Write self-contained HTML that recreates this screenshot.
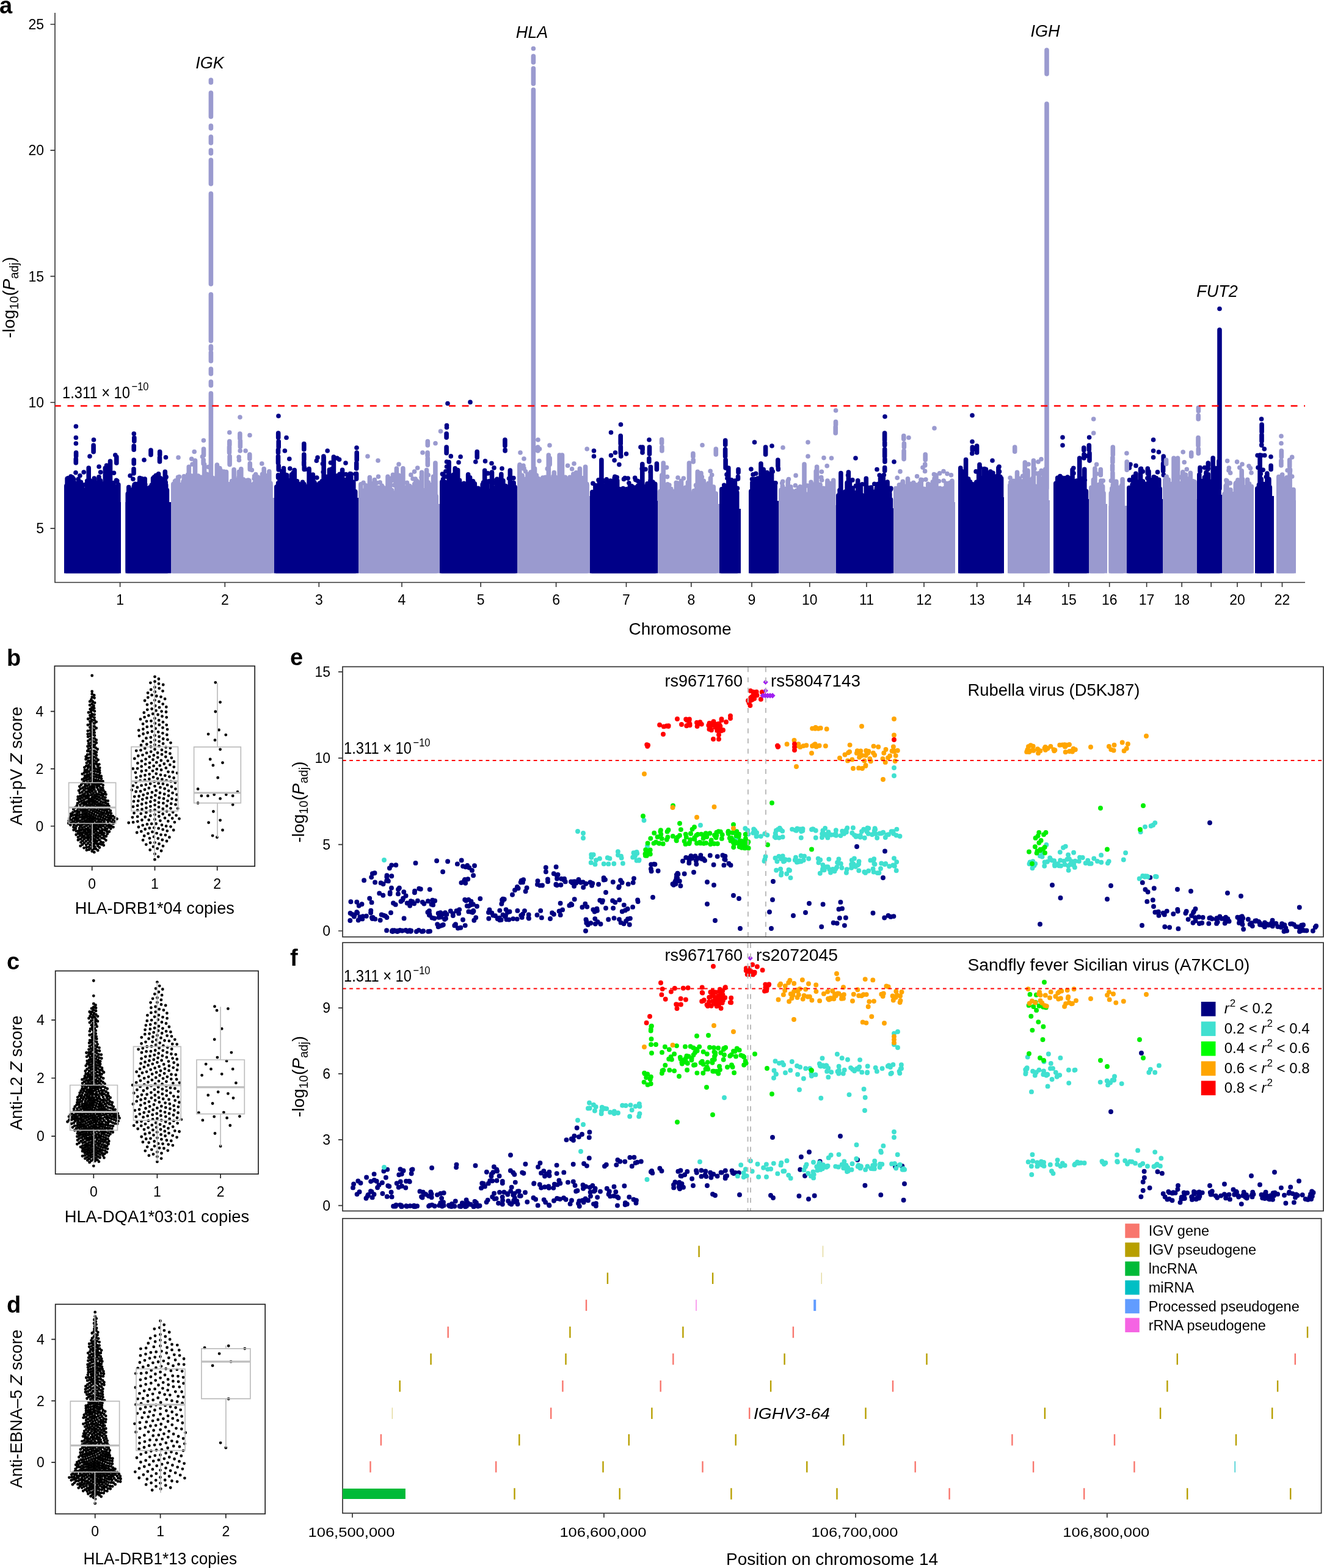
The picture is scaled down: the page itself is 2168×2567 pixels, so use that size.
<!DOCTYPE html>
<html><head><meta charset="utf-8"><title>Figure</title>
<style>html,body{margin:0;padding:0;background:#fff;}svg{display:block;}</style></head>
<body><svg width="2168" height="2567" viewBox="0 0 2168 2567" font-family="'Liberation Sans', Arial, sans-serif">
<rect width="2168" height="2567" fill="#fff"/>
<path d="M105 822H198V938.5H105ZM205.5 822H280V938.5H205.5ZM449 815H587V938.5H449ZM720 819H847V938.5H720ZM966 820H1077V938.5H966ZM1178 833H1213V938.5H1178ZM1226 820H1275V938.5H1226ZM1369 832H1463V938.5H1369ZM1569 814H1644V938.5H1569ZM1725 817H1783V938.5H1725ZM1845 817H1904V938.5H1845ZM1960 810H2001V938.5H1960ZM2055 812H2086V938.5H2055Z" fill="#000088"/>
<path d="M280 815H449V938.5H280ZM587 825H720V938.5H587ZM847 812H966V938.5H847ZM1077 825H1178V938.5H1077ZM1275 827H1369V938.5H1275ZM1463 822H1564V938.5H1463ZM1650 819H1719V938.5H1650ZM1783 825H1813V938.5H1783ZM1815.5 828H1845V938.5H1815.5ZM1904 817H1960V938.5H1904ZM2001 820H2053V938.5H2001ZM2090 819H2122V938.5H2090Z" fill="#9A9ACF"/>
<path d="M108.8 934.7V795.2M110.1 934.7V783.6M111.4 934.7V782.7M114.3 934.7V798.8M117.4 934.7V795.4M118.7 934.7V781.5M120.5 934.7V784M123 934.7V800.6M124.6 934.7V793.4M126.9 934.7V796M129.5 934.7V803.8M132.5 934.7V789.4M133.9 934.7V793.3M135.2 934.7V799.8M138.2 934.7V805.1M140.5 934.7V805.6M142.7 934.7V787.3M145.2 934.7V766M147.1 934.7V786.5M148.7 934.7V795.9M150.1 934.7V800.5M151.5 934.7V800.5M154.3 934.7V783.1M156.2 934.7V790.5M157.9 934.7V802.3M159.6 934.7V803.5M162 934.7V780.9M164.4 934.7V786.8M167.2 934.7V791.7M169.2 934.7V805.2M170.8 934.7V800.5M172.3 934.7V766.3M174.7 934.7V799.1M176.6 934.7V810.1M178.8 934.7V784.5M180.5 934.7V755M182.7 934.7V791.6M185.9 934.7V790.6M187.8 934.7V808.2M190.6 934.7V796.4M193.8 934.7V793.3M128.2 784.5h0M139.2 793.6h0M111.2 789.7h0M130.9 778.7h0M190.5 786.3h0M188.8 745h0M190.4 788.1h0M127.6 790.7h0M125.6 791h0M162.1 764h0M180.6 785.5h0M164.6 773.1h0M116 780h0M186.5 774.2h0M172.9 785.5h0M124 773.8h0M137.2 773h0M191.8 787.4h0M209.3 934.7V808.4M210.8 934.7V797.5M213.7 934.7V809.5M216.2 934.7V801.7M219.3 934.7V796M221.4 934.7V792.4M223.1 934.7V797.2M224.8 934.7V793.5M226.7 934.7V801M228.7 934.7V782.6M231 934.7V803.8M232.2 934.7V784.7M234.9 934.7V794.6M237.2 934.7V784.1M238.9 934.7V807M241.2 934.7V799.6M243.6 934.7V798.9M245.7 934.7V797.7M248.3 934.7V794.1M250.6 934.7V783.1M252.7 934.7V780.8M255.5 934.7V778.3M258 934.7V810.5M259.6 934.7V775.7M262.8 934.7V782.8M265.1 934.7V795.8M267.7 934.7V805.8M268.9 934.7V803.6M270.3 934.7V772.3M271.7 934.7V793.9M273.4 934.7V802.4M226.6 791.9h0M270.8 783h0M256.2 792.8h0M213.1 778.8h0M237.8 793h0M272.1 780.9h0M262.9 792.9h0M266.6 793.1h0M267 786.1h0M232 783.5h0M271.3 789.9h0M217.9 784.3h0M225.3 792.5h0M220.1 793.3h0M452.8 934.7V797.1M455.8 934.7V793.6M457.1 934.7V798.9M458.4 934.7V789.8M460.1 934.7V792.8M461.8 934.7V771.6M464.5 934.7V766.6M467.5 934.7V792.4M469.7 934.7V777.9M471.4 934.7V792.8M472.9 934.7V787.7M475.7 934.7V786.5M477.6 934.7V776.7M480.3 934.7V773.9M482.2 934.7V769.6M483.9 934.7V789.9M486.5 934.7V787.9M488.9 934.7V792.4M491.5 934.7V803M493.8 934.7V798.1M495.5 934.7V789.2M497.9 934.7V792.6M500.1 934.7V801.2M503.3 934.7V796.6M506.1 934.7V767.6M507.6 934.7V804.6M510.6 934.7V800.4M512.4 934.7V777.1M514.8 934.7V789.5M516.5 934.7V792.5M517.7 934.7V797.6M519.5 934.7V801.3M520.9 934.7V795.2M523.4 934.7V791.1M525.4 934.7V791.5M527.2 934.7V787.9M530.1 934.7V748M532.8 934.7V787.1M534.8 934.7V780.9M537 934.7V787.7M539.4 934.7V769M541.4 934.7V785.3M543.6 934.7V767.6M546.4 934.7V748M549.6 934.7V784M551.6 934.7V779.1M553.1 934.7V779.1M556 934.7V776.4M558 934.7V784.5M560.6 934.7V769.3M563.3 934.7V788.2M565.6 934.7V785.6M568 934.7V795.9M570.1 934.7V799.9M571.7 934.7V790.1M573.3 934.7V775.6M574.7 934.7V775.7M576 934.7V791.1M577.4 934.7V789.5M578.8 934.7V789.4M581.7 934.7V804.7M572.3 784.7h0M555.6 752.3h0M461.3 781.4h0M551.4 784.8h0M569.7 782.8h0M559.2 785h0M518.3 754.2h0M480 783h0M518.8 782h0M457.6 784.4h0M473.8 751.2h0M541.4 757.6h0M474.8 767h0M467.8 777.2h0M535.8 781.2h0M566.6 776.5h0M528.4 759.2h0M466.4 738h0M534.9 780.5h0M556.8 783h0M582 775.8h0M499.8 768.2h0M510.5 784.5h0M549.8 786.4h0M559.7 783.2h0M536.2 738h0M529.2 772.8h0M723.8 934.7V788.8M726.9 934.7V788.2M729.2 934.7V790.8M732 934.7V793.7M733.6 934.7V789.7M735.1 934.7V756.5M737.1 934.7V800.4M739.7 934.7V793.9M742.4 934.7V777.2M745.2 934.7V766.9M748 934.7V792.4M749.6 934.7V769.5M752.5 934.7V786.2M754.8 934.7V806.8M757.7 934.7V797M759.7 934.7V791.2M761.5 934.7V795.9M763.5 934.7V795.7M766.6 934.7V776.7M769.6 934.7V781.7M772.1 934.7V793.1M774.6 934.7V787.7M777.3 934.7V791.9M780.1 934.7V807.4M782.9 934.7V799.2M785.8 934.7V803.5M788.5 934.7V803.7M790.2 934.7V793.1M791.5 934.7V789.9M793.7 934.7V770.3M795.8 934.7V797.5M797.8 934.7V788.2M800.3 934.7V803.7M803.3 934.7V807.1M805.5 934.7V773.1M807.9 934.7V804.8M810.1 934.7V800.2M812.2 934.7V798M813.9 934.7V784.4M815.7 934.7V804.2M818.5 934.7V795.1M820.8 934.7V776.2M823.8 934.7V786.8M825 934.7V807.7M827.5 934.7V795.4M830 934.7V796.7M832.5 934.7V802.9M835.3 934.7V770M838.3 934.7V790M841.1 934.7V790.2M843.1 934.7V797.3M730.3 780.1h0M728.5 789.4h0M820.6 779.9h0M833.5 783.3h0M725.5 784.6h0M794.5 754.9h0M840.9 782.6h0M773 789.6h0M800.8 787.9h0M741.9 790.8h0M724.4 776h0M738.3 746.9h0M734.3 764.5h0M739.2 790.8h0M809.7 787.4h0M811.4 788.3h0M729.8 771.7h0M809 765.9h0M810.9 789.9h0M798.9 774.9h0M778.8 756h0M754.1 747.7h0M809.4 790.9h0M725.6 777.3h0M821.4 789.9h0M969.8 934.7V805.5M972 934.7V810.2M974.9 934.7V794.6M976.9 934.7V799.1M978.1 934.7V795.4M979.5 934.7V797.4M981.4 934.7V789.7M982.7 934.7V792.6M984.9 934.7V753M986.6 934.7V794M989.4 934.7V795.5M991 934.7V804.6M993.2 934.7V784.9M995.9 934.7V795.8M998.1 934.7V793.2M999.5 934.7V787M1002.2 934.7V807.3M1004.2 934.7V804.2M1006.2 934.7V782.5M1007.9 934.7V798.2M1010.7 934.7V786.7M1012 934.7V804.7M1013.7 934.7V800.5M1016 934.7V801.1M1017.2 934.7V810.1M1020.3 934.7V799.5M1023.2 934.7V805.2M1025.8 934.7V800.9M1028.2 934.7V800.8M1031.3 934.7V796.4M1032.8 934.7V803.1M1034.5 934.7V795.7M1036 934.7V798.2M1037.7 934.7V803M1040.1 934.7V798.1M1042.7 934.7V798.3M1044.8 934.7V795M1047.1 934.7V792.8M1050 934.7V801.6M1051.8 934.7V759.9M1053.3 934.7V809.1M1054.6 934.7V797.5M1056 934.7V809M1057.5 934.7V796.6M1060 934.7V791.7M1062.6 934.7V795.4M1065.4 934.7V764.6M1066.6 934.7V791.5M1069.7 934.7V793.9M1072.7 934.7V792.4M1044.6 787.5h0M1010.2 781.5h0M1009.6 786.9h0M1051.2 767.4h0M1021.5 784.4h0M988.8 787.3h0M984.8 780.9h0M1029.9 790.8h0M1064.9 786.9h0M1057 768.3h0M1068.9 789h0M1013.9 760.6h0M970.9 791.4h0M1028.2 783.1h0M1065 772.7h0M1025.5 743h0M1023.3 782.5h0M1040.7 785.6h0M1006.8 780.3h0M1006.1 753.6h0M1039.7 782.3h0M980 785.9h0M1181.8 934.7V800.8M1183.5 934.7V814.2M1184.7 934.7V804.8M1186 934.7V795.8M1187.4 934.7V796.7M1190.1 934.7V818.7M1192.8 934.7V766M1194.9 934.7V795.5M1197.7 934.7V785.9M1199.8 934.7V792.9M1201.1 934.7V810.6M1203.4 934.7V787.1M1205.1 934.7V812.9M1206.7 934.7V806.1M1188.3 801.4h0M1195.9 797.3h0M1207.4 799.4h0M1190 776.9h0M1185.7 794.2h0M1190.9 783h0M1196.8 786.4h0M1229.8 934.7V804.3M1231.9 934.7V790.1M1233.8 934.7V793M1235.4 934.7V784.5M1237.6 934.7V792.8M1240.8 934.7V783M1243.9 934.7V788.5M1246 934.7V759M1248.5 934.7V801.9M1250.2 934.7V768.6M1253.1 934.7V794.2M1256 934.7V773.5M1258.8 934.7V787.7M1261.7 934.7V797.2M1263.6 934.7V768.1M1266.1 934.7V791.3M1269.1 934.7V790.8M1233.1 776.9h0M1236.6 784.4h0M1270 790.8h0M1231.5 784.5h0M1237.7 775.3h0M1229.9 768.1h0M1265.2 771.9h0M1247.4 787.7h0M1257.2 782.6h0M1372.8 934.7V811M1375.1 934.7V802.4M1376.9 934.7V774.5M1378.6 934.7V809.8M1381.6 934.7V808.6M1383.4 934.7V805.5M1385.2 934.7V804.2M1387.1 934.7V790.3M1389.4 934.7V773M1391.5 934.7V789M1394.5 934.7V804.7M1396.2 934.7V799M1397.8 934.7V813.2M1399.4 934.7V811.4M1400.8 934.7V806.8M1402.3 934.7V813.8M1404.7 934.7V786.8M1407.4 934.7V803.9M1409.3 934.7V796.2M1411.2 934.7V810.6M1413.3 934.7V822.5M1416.5 934.7V816.5M1418.3 934.7V783.2M1419.7 934.7V798.5M1422.1 934.7V810.5M1424 934.7V798.5M1426.7 934.7V798.1M1429.8 934.7V805.6M1432.9 934.7V804.9M1435.4 934.7V799.1M1437.1 934.7V792.5M1438.4 934.7V809.7M1441.5 934.7V781.8M1444.5 934.7V804.9M1446.2 934.7V778.7M1448.1 934.7V799.8M1451.1 934.7V800.5M1453.1 934.7V789.1M1455.1 934.7V800.4M1456.8 934.7V808.1M1458.4 934.7V817.6M1458.7 800.8h0M1422 801.8h0M1447.4 777.6h0M1395.9 785.9h0M1443.9 799.7h0M1401.4 795.4h0M1449.8 801.7h0M1431.8 792.2h0M1411.9 792.7h0M1449.1 800.9h0M1449.1 798.2h0M1440.2 778.1h0M1388.6 778.1h0M1458.8 799.4h0M1374.9 802.5h0M1457 803.9h0M1451.6 801.9h0M1436.4 802.7h0M1572.8 934.7V766.1M1575.4 934.7V783.1M1577.5 934.7V798.1M1580.4 934.7V792.6M1581.6 934.7V752.6M1583.4 934.7V800.8M1585.7 934.7V784M1588.6 934.7V788.8M1590.2 934.7V797.2M1592.3 934.7V792.5M1595.1 934.7V802.5M1596.4 934.7V794.2M1598.8 934.7V789.4M1600.5 934.7V791.3M1602.7 934.7V771.4M1604 934.7V760.6M1605.3 934.7V783.1M1607.6 934.7V782.5M1610.2 934.7V788.7M1611.7 934.7V767.5M1614.4 934.7V768.3M1616.2 934.7V778.1M1618.8 934.7V802.7M1620.4 934.7V785.9M1621.9 934.7V772M1623.4 934.7V791.2M1624.7 934.7V795.2M1627 934.7V795.5M1629 934.7V779.8M1630.5 934.7V782.8M1632.7 934.7V791.2M1634.9 934.7V765.8M1637.9 934.7V787M1639.6 934.7V783.1M1575 774.1h0M1638 780.5h0M1636.5 772.1h0M1576.2 780.7h0M1603.1 782.3h0M1622.8 783.4h0M1625.9 781.4h0M1577.5 775.4h0M1579.2 775.6h0M1625.9 774.2h0M1603.9 785.6h0M1607.4 784.7h0M1616.4 784.2h0M1611.8 780.3h0M1598.1 771.9h0M1728.8 934.7V791.2M1731.7 934.7V782.2M1734.3 934.7V797.6M1735.7 934.7V781.4M1737.3 934.7V805.4M1738.9 934.7V782.1M1740.9 934.7V802M1744.1 934.7V791.3M1745.3 934.7V806.3M1748.1 934.7V781.1M1751.1 934.7V791.3M1754 934.7V782.5M1756.1 934.7V769M1758.6 934.7V796.2M1761.6 934.7V791.3M1762.9 934.7V787.1M1765 934.7V794.5M1767.7 934.7V750M1770.7 934.7V800.2M1772 934.7V800M1773.8 934.7V783.3M1775.8 934.7V768.3M1778.4 934.7V804M1742.8 786.7h0M1757.8 766.3h0M1768.8 783.5h0M1735.9 779.6h0M1773 786.7h0M1766 786.6h0M1744.5 788.3h0M1743.8 782.7h0M1777.5 746.4h0M1738.2 784.2h0M1776.4 786.1h0M1848.8 934.7V798.5M1851.6 934.7V801.2M1854.1 934.7V793.2M1855.7 934.7V780.6M1858.5 934.7V784.6M1859.8 934.7V775.4M1862.4 934.7V790.3M1864.8 934.7V804.3M1867.6 934.7V767.7M1869 934.7V787.6M1871.5 934.7V788.1M1873.1 934.7V791.4M1875.8 934.7V792.4M1878.4 934.7V793.8M1881 934.7V771.9M1884 934.7V788.5M1885.3 934.7V786.1M1887 934.7V790M1890.2 934.7V781.1M1893.2 934.7V782.6M1894.7 934.7V786M1897.7 934.7V785.3M1899.2 934.7V800.1M1861.7 788.7h0M1895.5 772.9h0M1897.4 740h0M1871.2 771.9h0M1868.5 767.3h0M1892 787.1h0M1849.5 785.9h0M1878.9 782.8h0M1849.3 765.9h0M1889.2 780.9h0M1851 760.4h0M1963.8 934.7V777.1M1965.1 934.7V789M1968 934.7V799.2M1970.6 934.7V786.8M1972.5 934.7V791.1M1975 934.7V773.5M1978.2 934.7V776.4M1980.2 934.7V788M1983.2 934.7V794.3M1986.2 934.7V749.7M1988 934.7V781.7M1991.2 934.7V792M1993.5 934.7V766.3M1996 934.7V754.8M1994.1 781.8h0M1972.5 765.6h0M1996.9 779.5h0M1978.4 766.9h0M1986.9 764.2h0M1989 778.3h0M1972.4 781.6h0M1986.9 778.9h0M2058.8 934.7V799.9M2061.5 934.7V793.5M2063.1 934.7V745M2065.2 934.7V784.4M2067.5 934.7V794.2M2069.7 934.7V792.6M2072.2 934.7V799.1M2074.9 934.7V775.1M2076.5 934.7V794.4M2077.9 934.7V784.4M2079.3 934.7V797.6M2068.2 769.2h0M2059.1 745.5h0M2064.3 775.6h0M2070.8 745.5h0M2070.3 735h0M2073.3 780.8h0M124.4 698h0M124.4 716.5h0M124.4 726h0M124.6 741V746.8M124.3 751.3V757.7M153.5 720h0M153.1 729V739.8M147 747h0M190.8 748V758M174.5 762V774M175.2 779.8V787M219.3 710h0M219.8 716.5V722.3M219.2 730V736.3M219.2 753V759.1M219 767.8V775M247 737V744.6M261.7 739.5V744.8M261.5 749.1V755.7M271.5 748.7h0M236 753h0M456 681h0M455.7 709V716.5M456.2 722.6V731.9M455.5 736.6V741M455.5 747V758M456.2 762.3V769M455.6 777.9V782.1M455.6 790.7V793M469 716.5h0M497.8 726.6V735.8M497.8 744V752.8M497.7 756.1V761M498.2 764.5V768.5M584 733h0M584.2 741V752.9M583.7 758V766.9M583.6 775.5V784M520 749h0M529.9 747V756M552 750h0M566 758h0M731.5 696.6h0M731.5 699.7h0M731.1 710V716.3M731.1 732V741.7M731.5 756h0M731.5 764h0M733 660.5h0M770 658.4h0M826.9 720V729.8M827.1 736.6V738M781.2 739.5V748.8M751 757h0M805 758.5h0M822 767h0M1016.5 695h0M1016.2 713.5V726.5M1016.3 731.4V742M1016.8 746V747M1000.5 708h0M1000.5 745.6h0M1063 720h0M1063.5 732V743.2M1062.8 750.9V756M972.5 738h0M972.5 747h0M1007.5 741h0M1052.1 732V736.6M1052 740.1V741M1075.4 759V768.5M1049 732h0M1187.7 721V728.2M1187.6 735.5V747.2M1188.1 752.8V766.1M1209 768.5V773.5M1208.5 780.4V784M1235.5 724h0M1253.6 732V744M1264 730h0M1273.8 753V763.2M1274.3 766.6V768.5M1449 682h0M1448.6 709V720.7M1448.7 724.3V729M1448.7 735.2V747.5M1448.9 751.6V756M1448.7 765.5V770.7M1401 750h0M1436 768.5h0M1464 756h0M1592 680h0M1592 723h0M1592.3 732V737.1M1591.8 742.1V742.5M1605 765.5h0M1575 771.6h0M1599.6 730V741M1625 754h0M1636 764h0M1740 716h0M1740 729h0M1783.6 716h0M1783.3 729V736.4M1784 741.9V754.1M1774.8 733V737.1M1775 743.7V750M1758 774.7h0M1888.6 720h0M1888.6 738h0M1888.6 748.7h0M1905.2 747V753.5M1904.6 758.8V771.2M1905.3 777.4V777.7M1860 762.4h0M1879.3 767V774.7M1978.3 758V762.3M1977.6 766.6V768.5M1965 765.5V771.5M2065.6 686h0M2066.1 695V707M2066 711.9V722.2M2065.8 728V729M2065.6 745.6h0M2081 747.7h0M2081.1 762.4V768.5M2060 765.5h0M1997 505.5h0M1997 540V800" stroke="#000088" stroke-width="7.6" stroke-linecap="round" fill="none"/>
<path d="M283.8 934.7V792.6M286.5 934.7V787.7M287.8 934.7V786.7M290.1 934.7V795.7M291.5 934.7V781.4M294.3 934.7V793.6M297.5 934.7V800.2M300 934.7V788.2M301.3 934.7V779.9M304.2 934.7V782.7M305.9 934.7V784.1M307.6 934.7V777.1M309.3 934.7V764.2M310.5 934.7V793.2M312.1 934.7V782.8M313.5 934.7V779M315.1 934.7V790.6M317.7 934.7V793.5M319.5 934.7V754.1M322 934.7V803.6M324.5 934.7V779.1M326.7 934.7V787.3M329 934.7V781.2M330.7 934.7V791.1M332.1 934.7V782.8M334.6 934.7V760.4M337.3 934.7V792.3M338.6 934.7V776.3M341.2 934.7V800.2M343.4 934.7V793.3M346.2 934.7V789.2M347.9 934.7V782.2M349.1 934.7V793.3M351.7 934.7V784.1M353.8 934.7V785.5M355.4 934.7V761M358.3 934.7V766.1M359.9 934.7V766.6M361.4 934.7V770.3M363.6 934.7V782M366.6 934.7V772M368.7 934.7V788.3M370.5 934.7V772.5M373.4 934.7V804.5M376.4 934.7V792.6M379.6 934.7V787.5M381.3 934.7V790.4M383.1 934.7V768.8M385.3 934.7V793.8M388.3 934.7V785.3M391.4 934.7V772.4M393.5 934.7V788M394.8 934.7V767.8M396.7 934.7V799.1M398.4 934.7V784.8M400.4 934.7V790.3M403.4 934.7V786.8M406.6 934.7V786.1M408 934.7V786.9M409.7 934.7V797.4M411.7 934.7V793.6M413.6 934.7V793.4M415 934.7V794M416.7 934.7V790.6M418.7 934.7V776.6M420 934.7V801.5M422.1 934.7V781M425.2 934.7V788.7M426.9 934.7V790.7M429.5 934.7V776.4M432.2 934.7V767.5M433.8 934.7V777.9M435.3 934.7V797.8M436.7 934.7V797.8M438.7 934.7V791.4M440.8 934.7V771.9M443 934.7V791M333.4 786.7h0M364.2 772.4h0M351.6 783.1h0M391.5 753.3h0M320.4 786.5h0M338.4 779.9h0M394 784.1h0M412.4 769.5h0M365.3 784h0M440.3 782.1h0M416.1 783.6h0M319.5 768.4h0M331.4 747.5h0M363.8 784.3h0M319.8 780h0M391.2 748.4h0M307.4 780.5h0M318.2 739.5h0M306.7 786.3h0M293.5 780.5h0M428.8 759h0M402.1 738h0M434.2 781.8h0M313.7 751.3h0M404.3 786.6h0M391 780.8h0M344.1 781.8h0M311.1 787h0M329 781.4h0M438 785.3h0M439.4 784h0M341.4 764.6h0M416.5 779.6h0M590.8 934.7V792.9M593.2 934.7V803.1M594.7 934.7V808.4M596.6 934.7V804.4M599 934.7V794.7M601.1 934.7V814.6M602.6 934.7V809.6M605.4 934.7V781.5M607.7 934.7V806.7M610.8 934.7V791.6M612.1 934.7V799.5M613.4 934.7V785.6M616.5 934.7V801.2M618.7 934.7V798.1M620.5 934.7V814.6M623.1 934.7V814.1M625.2 934.7V795M626.7 934.7V797.3M629.4 934.7V803.5M631.1 934.7V799.6M633.3 934.7V807.8M635 934.7V780.2M636.6 934.7V803.7M638.5 934.7V785.8M641.5 934.7V802.5M644.7 934.7V808.4M647.6 934.7V806.9M649.4 934.7V767M650.9 934.7V800.7M652.8 934.7V778.1M655.2 934.7V786.3M657.2 934.7V798.4M658.5 934.7V797.2M659.9 934.7V766.9M662.7 934.7V804.8M664.5 934.7V799.8M666.1 934.7V798.1M667.9 934.7V794.3M671 934.7V808M672.3 934.7V802.1M674.2 934.7V797.7M677.1 934.7V812.9M678.7 934.7V792.2M680.9 934.7V788M682.8 934.7V787.6M684.5 934.7V809.4M686 934.7V791.3M688.6 934.7V796.4M690.6 934.7V773.2M691.8 934.7V801.7M694 934.7V810.6M696.1 934.7V805.8M698.6 934.7V769.5M701.2 934.7V789.9M703.9 934.7V793.5M706.9 934.7V800M709.5 934.7V780.2M711.3 934.7V795.2M712.9 934.7V758M714.3 934.7V812.3M645.3 794.2h0M670.8 795.5h0M616.7 790.6h0M595.1 790.4h0M690 781.6h0M653.6 784h0M648.9 795h0M666.5 790.3h0M683.7 766h0M644.7 785.9h0M684.7 789.9h0M619.5 780.3h0M701.2 777.7h0M678.6 772.1h0M676 783.7h0M647.7 792.1h0M669.6 795.7h0M643.4 777.2h0M680.2 784.1h0M622.2 789.8h0M647.9 784.4h0M642.1 782.4h0M707.4 794.4h0M672.9 777.4h0M639.5 788.3h0M713 796.5h0M850.8 934.7V762.2M853 934.7V792.1M855.1 934.7V778.4M857 934.7V788M858.9 934.7V789.1M861.3 934.7V784M863.9 934.7V776.2M867 934.7V780.8M869.1 934.7V773.1M871.5 934.7V780.2M872.7 934.7V790.9M875.5 934.7V767.1M878.4 934.7V778.1M881.3 934.7V783.5M883.2 934.7V795.2M884.8 934.7V790.3M887.2 934.7V784.2M888.9 934.7V787.7M890.3 934.7V785.1M892.6 934.7V781.5M894.8 934.7V781.4M896.3 934.7V781.7M898.3 934.7V745M900.3 934.7V796.4M901.8 934.7V784M903 934.7V803.5M905.2 934.7V783.2M907.3 934.7V773.5M910.4 934.7V784M912 934.7V786.1M914.9 934.7V797.5M916.2 934.7V745M917.9 934.7V790.1M920.5 934.7V745M923.7 934.7V784.4M925.6 934.7V781.3M926.9 934.7V784.9M930 934.7V788.1M933.1 934.7V781.2M935.8 934.7V790.8M937.3 934.7V783.1M938.8 934.7V776M940.3 934.7V802.4M943.4 934.7V773.8M944.8 934.7V777.4M946.9 934.7V797.1M949.4 934.7V767.3M951.7 934.7V800.3M953.7 934.7V789.4M955.6 934.7V793.2M958.6 934.7V764.2M961.1 934.7V792.5M873.3 778.1h0M961.2 735h0M953.9 782.7h0M883 754.6h0M857.2 767.1h0M883.5 735h0M852.6 762.6h0M888.8 782h0M851 760.8h0M909.5 781.3h0M899.3 752.4h0M875.1 773h0M866.2 781.4h0M936.6 767.8h0M872.7 782.9h0M860.5 771.8h0M906 779.8h0M873.8 771.7h0M929.6 762.3h0M915.7 781.1h0M858.1 766.8h0M896.3 767.4h0M857 762.4h0M1080.8 934.7V804.5M1083.8 934.7V777.7M1086.2 934.7V758M1089 934.7V803M1091.9 934.7V794.5M1094.5 934.7V801.4M1096.5 934.7V802.7M1098.7 934.7V800.4M1101.1 934.7V813M1102.4 934.7V808.4M1105 934.7V804.4M1107.4 934.7V792.6M1109.7 934.7V807.9M1112.9 934.7V795.8M1115.6 934.7V787.2M1118.4 934.7V804.8M1121.2 934.7V808.4M1122.7 934.7V798M1125.1 934.7V803.2M1126.4 934.7V789.6M1128.5 934.7V758M1131.4 934.7V811.8M1133.2 934.7V808M1136.3 934.7V803.5M1137.9 934.7V811.4M1140.7 934.7V799.6M1142.3 934.7V772.2M1143.7 934.7V799.1M1145 934.7V812.7M1146.7 934.7V802.2M1148 934.7V774.5M1149.4 934.7V801.2M1152.3 934.7V787.2M1154.9 934.7V812M1158 934.7V796.8M1159.5 934.7V792.7M1161.8 934.7V799.3M1163.5 934.7V782.7M1165.8 934.7V810.1M1168.3 934.7V797M1169.6 934.7V812.6M1172.2 934.7V808.1M1108.5 796.1h0M1109.9 793.7h0M1092.6 780.6h0M1107.2 790.3h0M1165.7 777.6h0M1163.2 771.3h0M1093.1 792.8h0M1083.6 782.2h0M1142.8 791.4h0M1119.3 783h0M1146.1 793.3h0M1159.9 791.4h0M1139.5 794.4h0M1091.6 765.3h0M1149.4 780.8h0M1084.6 796.5h0M1095.9 794.1h0M1109.1 790.8h0M1084.5 792.2h0M1140.4 794.4h0M1278.8 934.7V802.2M1281.3 934.7V795.6M1283.4 934.7V799.8M1284.8 934.7V805.8M1287.8 934.7V800.5M1290.2 934.7V787.1M1292.7 934.7V808.1M1294.8 934.7V797M1297.8 934.7V804.1M1299.9 934.7V812.1M1302.3 934.7V805.7M1304.2 934.7V803.2M1306.5 934.7V815.4M1307.9 934.7V798.7M1310.2 934.7V796.8M1312.6 934.7V797.7M1315.5 934.7V806.7M1317 934.7V760M1319 934.7V816.6M1321.7 934.7V809.1M1323.7 934.7V811.6M1325.5 934.7V797.6M1327.9 934.7V792.6M1330.8 934.7V812.8M1333.6 934.7V797.7M1336.2 934.7V771.6M1337.6 934.7V764.2M1340.2 934.7V801.8M1343.1 934.7V793.2M1345.9 934.7V809.1M1348.4 934.7V799.3M1350.7 934.7V805M1351.9 934.7V799.9M1354.9 934.7V787.1M1357.7 934.7V797.8M1359.2 934.7V791.3M1361.7 934.7V806.2M1364.7 934.7V786.2M1328.7 792.6h0M1309.4 798.9h0M1328.8 793.7h0M1280.6 791h0M1364 798.4h0M1291.4 784.5h0M1302.4 794.8h0M1322 795h0M1328 789.2h0M1361.5 750h0M1281.7 788.3h0M1345.4 772.2h0M1345.7 786h0M1333.6 793.1h0M1303.1 778.4h0M1354.2 762.7h0M1337.7 794.3h0M1344.8 781.5h0M1466.8 934.7V799.6M1469.8 934.7V800.5M1471.1 934.7V807.9M1472.4 934.7V793.8M1473.8 934.7V813.7M1476.7 934.7V794.1M1478.3 934.7V788.3M1480.5 934.7V801.3M1483.5 934.7V796M1486.5 934.7V783.9M1487.8 934.7V804.8M1490.2 934.7V792.1M1492.7 934.7V798.8M1495.8 934.7V790.3M1497.7 934.7V808.6M1499.6 934.7V793.8M1500.8 934.7V804.2M1503.3 934.7V796.1M1504.7 934.7V793.4M1506 934.7V791.2M1508.3 934.7V786.8M1511.2 934.7V800.2M1512.9 934.7V800.4M1515.5 934.7V801M1518.1 934.7V803.8M1519.7 934.7V792.2M1521.8 934.7V793.9M1523.5 934.7V811.3M1525.7 934.7V803.9M1527.3 934.7V788.8M1530.1 934.7V783.3M1533 934.7V778M1534.4 934.7V806.5M1536.5 934.7V802.3M1539.1 934.7V799.2M1541.8 934.7V806.8M1544.1 934.7V800.2M1546 934.7V799.5M1547.3 934.7V807.2M1549.2 934.7V791.3M1552.1 934.7V801.6M1554.5 934.7V792.6M1556.5 934.7V790.1M1559 934.7V787.4M1553.2 791.2h0M1557.5 777.8h0M1501.6 779.8h0M1497.6 793h0M1537.4 787.8h0M1515.9 785.1h0M1551 775.6h0M1469.2 782.3h0M1510 785.9h0M1545.2 787h0M1511 765.3h0M1507.9 785.2h0M1514.6 771.4h0M1529.4 776.5h0M1504.3 793.5h0M1530.3 783.5h0M1538.6 774.9h0M1477.8 790.8h0M1474 771.9h0M1476.3 792.8h0M1653.8 934.7V794.4M1655.7 934.7V792.1M1657.2 934.7V796.3M1659.4 934.7V787.3M1661.6 934.7V792.4M1663.3 934.7V796.1M1665.5 934.7V773.4M1667.6 934.7V789.2M1669.3 934.7V783.3M1670.6 934.7V797.8M1673.5 934.7V802.6M1675.9 934.7V787.2M1678.3 934.7V757.1M1680.9 934.7V784M1683 934.7V770.4M1685.1 934.7V789.9M1687.7 934.7V785.5M1689.2 934.7V795M1692.4 934.7V754M1694.6 934.7V795.7M1697 934.7V802.3M1699.8 934.7V805M1701.3 934.7V774.7M1702.8 934.7V794M1705.5 934.7V791.4M1707.6 934.7V791.4M1709.3 934.7V773.4M1710.8 934.7V776.1M1713.7 934.7V794.2M1684 760h0M1695.9 774.9h0M1677.9 771.1h0M1702.5 776.1h0M1711.6 768.3h0M1678.7 789.8h0M1693.9 767.5h0M1674.7 779.3h0M1705.1 770.5h0M1654.1 782.3h0M1654.8 789.5h0M1703.7 783.9h0M1690.9 783.1h0M1786.8 934.7V798.3M1788.8 934.7V812M1790.4 934.7V785.6M1792.9 934.7V767M1795 934.7V803.7M1796.8 934.7V811.5M1798.5 934.7V794.7M1799.8 934.7V793.4M1802.9 934.7V787.1M1805.6 934.7V796.2M1807 934.7V807.3M1802.3 777.6h0M1795.6 760.3h0M1803.4 791.6h0M1795.6 775.7h0M1794.6 794.3h0M1806.3 787.1h0M1819.3 934.7V807.4M1820.8 934.7V799.5M1823 934.7V796.8M1825 934.7V799.3M1827.8 934.7V788.3M1830.5 934.7V811.9M1833.1 934.7V798.2M1834.6 934.7V803.7M1836.4 934.7V812.2M1838.1 934.7V784.7M1836.9 794.2h0M1834.6 799h0M1837.7 794.9h0M1819.4 787.1h0M1822.3 795.8h0M1907.8 934.7V785.4M1910.2 934.7V780.2M1911.9 934.7V804.8M1913.3 934.7V785.2M1915.4 934.7V794.5M1917.5 934.7V792.6M1919.5 934.7V793.8M1922 934.7V750M1924.4 934.7V794.7M1926 934.7V800.7M1928.5 934.7V750M1931.3 934.7V791.5M1934.4 934.7V800.9M1936.8 934.7V772.8M1939.5 934.7V807.5M1941.1 934.7V779.1M1942.5 934.7V793.1M1943.7 934.7V783.8M1945.9 934.7V793M1947.3 934.7V800.3M1949.3 934.7V774.3M1952.1 934.7V787.7M1953.7 934.7V787.9M1956 934.7V788.8M1948.9 787.6h0M1925.6 784.3h0M1944.7 786.9h0M1937.2 740h0M1945 788.9h0M1911.4 787.4h0M1941.3 777.1h0M1933 781.1h0M1927.5 776.7h0M1939.2 756.7h0M1943.3 768.3h0M2004.8 934.7V808.7M2007.2 934.7V795.2M2009 934.7V787M2010.5 934.7V801.8M2013 934.7V803.2M2014.9 934.7V801.7M2017.5 934.7V809.9M2020.4 934.7V808.6M2023.3 934.7V791.5M2024.5 934.7V790.1M2026.9 934.7V785.8M2030 934.7V801.4M2031.7 934.7V793.7M2033.2 934.7V770.9M2034.6 934.7V784.6M2036.9 934.7V797.4M2038.6 934.7V803.5M2040.2 934.7V798.7M2042.7 934.7V785.4M2045.6 934.7V792.1M2047 934.7V799.1M2049.2 934.7V796.4M2007.8 786.2h0M2025.6 756.1h0M2029.4 791h0M2014.7 774.3h0M2029.8 765.5h0M2047.5 766.6h0M2009.7 754.6h0M2028.1 788.4h0M2012.4 766h0M2014.2 790.9h0M2093.8 934.7V780.5M2095.9 934.7V808M2097.9 934.7V793.3M2099.5 934.7V777.2M2101.2 934.7V797.7M2102.6 934.7V792.7M2104.1 934.7V801.1M2107.1 934.7V781.7M2109.2 934.7V804.3M2112.1 934.7V769.5M2114.2 934.7V808.7M2115.9 934.7V807.3M2118 934.7V801.5M2106.3 789.4h0M2099.7 777h0M2108.1 770h0M2115.7 748.4h0M2098.5 790h0M2115.7 780h0M393 683h0M392.9 710V718.1M393.4 721.5V731.4M393.2 737.8V738M375.8 708h0M375.8 722.6V728.4M375.5 731.5V741M376.1 747V760.6M333.4 721h0M333.5 735V745.4M333.1 752.7V759M409 712.5h0M408.8 744V751M409.3 758.9V768.5M292 749h0M315 760h0M700.3 722.6V728.9M700.1 741V745.9M700.3 750.1V761.2M721.5 706h0M713 725.7h0M602 747h0M619 754h0M653 760h0M692 741h0M881 720h0M880.7 732V738M900 729h0M900.2 750V760.4M852 741h0M858 751h0M940 759h0M1083.6 719.6V725.6M1083.9 731.6V738M1150 728.8h0M1172.3 735V744M1134.9 742.5V747.2M1135.2 753.1V756M1110 782h0M1368.6 672h0M1368.5 690.5V695.4M1368.2 698.9V709M1282 732.7h0M1323 724h0M1323 747h0M1349 749.6h0M1479.8 713.5V718.7M1480.4 726.1V732M1480.1 738V751.6M1488 716.5h0M1530 701h0M1515.2 744V752.7M1514.7 760.1V762M1545 771.6h0M1661.7 732V739.2M1700 756h0M1705 751.7h0M1790.7 686h0M1790.7 709h0M1822.3 732V744.5M1821.9 749.1V756.7M1821.6 761.9V769.6M1821.9 774V787.1M1822.3 793.9V799M1844.9 742h0M1845.2 756V769.2M1802.3 768.5V777.7M1962.4 667.5V672.9M1962.2 680.4V686M1962 716.5V729.2M1962.3 734.9V742.3M1950.7 741V747M1909.6 753V759.5M2034 760h0M2045 763h0M2049 774h0M2012 770h0M2098 714h0M2098 725.7h0M2098.3 738V747.9M2097.9 754V762M2111.7 753V763.7M2112.5 768.8V771.6M345.4 131h0M345.4 131V135M345.4 152V191M345.4 206V210M345.4 224V234M345.4 246V251M345.4 262V301M345.4 317V465M345.4 482V558M345.4 567V572M345.4 577V591M345.4 604V612M345.4 625V631M345.4 644V800M873.4 79.5h0M873.4 92V102M873.4 112V137M873.4 147V800M1714 82h0M1714 82V121M1714 170V800" stroke="#9A9ACF" stroke-width="7.6" stroke-linecap="round" fill="none"/>
<path d="M90 21V953.5H2137" stroke="#333" stroke-width="1.6" fill="none"/>
<path d="M82.5 865.1H90M82.5 658.8H90M82.5 452.4H90M82.5 246.1H90M82.5 39.8H90M196.6 953.5V961M368.3 953.5V961M522.3 953.5V961M658 953.5V961M787.2 953.5V961M910.6 953.5V961M1025.5 953.5V961M1131.8 953.5V961M1231 953.5V961M1325.8 953.5V961M1419 953.5V961M1513 953.5V961M1599.7 953.5V961M1676.5 953.5V961M1750 953.5V961M1816.7 953.5V961M1877.6 953.5V961M1935.2 953.5V961M1983.2 953.5V961M2026 953.5V961M2065.3 953.5V961M2099.5 953.5V961" stroke="#333" stroke-width="1.6" fill="none"/>
<path d="M90 664.5H2137" stroke="#FF0000" stroke-width="2.6" stroke-dasharray="10.9 10.64" stroke-dashoffset="1.14" fill="none"/>
<text x="72" y="873.4" font-size="23" text-anchor="end">5</text>
<text x="72" y="667" font-size="23" text-anchor="end">10</text>
<text x="72" y="460.6" font-size="23" text-anchor="end">15</text>
<text x="72" y="254.3" font-size="23" text-anchor="end">20</text>
<text x="72" y="48" font-size="23" text-anchor="end">25</text>
<text x="196.6" y="990.4" font-size="23" text-anchor="middle">1</text>
<text x="368.3" y="990.4" font-size="23" text-anchor="middle">2</text>
<text x="522.3" y="990.4" font-size="23" text-anchor="middle">3</text>
<text x="658" y="990.4" font-size="23" text-anchor="middle">4</text>
<text x="787.2" y="990.4" font-size="23" text-anchor="middle">5</text>
<text x="910.6" y="990.4" font-size="23" text-anchor="middle">6</text>
<text x="1025.5" y="990.4" font-size="23" text-anchor="middle">7</text>
<text x="1131.8" y="990.4" font-size="23" text-anchor="middle">8</text>
<text x="1231" y="990.4" font-size="23" text-anchor="middle">9</text>
<text x="1325.8" y="990.4" font-size="23" text-anchor="middle">10</text>
<text x="1419" y="990.4" font-size="23" text-anchor="middle">11</text>
<text x="1513" y="990.4" font-size="23" text-anchor="middle">12</text>
<text x="1599.7" y="990.4" font-size="23" text-anchor="middle">13</text>
<text x="1676.5" y="990.4" font-size="23" text-anchor="middle">14</text>
<text x="1750" y="990.4" font-size="23" text-anchor="middle">15</text>
<text x="1816.7" y="990.4" font-size="23" text-anchor="middle">16</text>
<text x="1877.6" y="990.4" font-size="23" text-anchor="middle">17</text>
<text x="1935.2" y="990.4" font-size="23" text-anchor="middle">18</text>
<text x="2026" y="990.4" font-size="23" text-anchor="middle">20</text>
<text x="2099.5" y="990.4" font-size="23" text-anchor="middle">22</text>
<text x="1113.5" y="1039.3" font-size="28" text-anchor="middle">Chromosome</text>
<text transform="translate(24 487) rotate(-90)" text-anchor="middle" font-size="28">-log<tspan font-size="20" dy="6">10</tspan><tspan dy="-6">(</tspan><tspan font-style="italic">P</tspan><tspan font-size="20" dy="6">adj</tspan><tspan dy="-6">)</tspan></text>
<text x="343.5" y="111.8" font-size="27" text-anchor="middle" font-style="italic">IGK</text>
<text x="871" y="62.1" font-size="27" text-anchor="middle" font-style="italic">HLA</text>
<text x="1711.5" y="59.6" font-size="27" text-anchor="middle" font-style="italic">IGH</text>
<text x="1993" y="486" font-size="27" text-anchor="middle" font-style="italic">FUT2</text>
<text x="102" y="651.8" font-size="27" textLength="111" lengthAdjust="spacingAndGlyphs">1.311 × 10</text><text x="215.5" y="639.3" font-size="19" textLength="28" lengthAdjust="spacingAndGlyphs">−10</text>
<text x="-1" y="21.5" font-size="38" font-weight="bold">a</text>
<path d="M154.3 1395.2h0M150.7 1393.5h0M160.2 1392.2h0M141.9 1391.7h0M145.8 1390.9h0M153 1390.1h0M157.1 1389.7h0M149.3 1388.8h0M137.5 1388.1h0M162.9 1387.5h0M141.4 1387.3h0M145.4 1386.6h0M155.1 1386.2h0M151.2 1385.3h0M131.7 1384.9h0M160 1384.8h0M169.8 1383.8h0M147.7 1383.4h0M141.1 1383.1h0M135 1382.7h0M166.1 1382.4h0M153.8 1382h0M162.2 1381.4h0M158.2 1381.2h0M144.3 1380.7h0M150.2 1380.2h0M137.9 1379.9h0M169 1379.3h0M132.4 1378.9h0M155.3 1378.4h0M165.2 1378.1h0M146.9 1377.7h0M141 1377.3h0M159.1 1376.9h0M151.8 1376.6h0M135.4 1376.3h0M173.4 1375.6h0M127.9 1375.2h0M162.7 1374.9h0M143.9 1374.6h0M155.9 1374.4h0M148.7 1374.1h0M131.6 1373.7h0M138.2 1373.4h0M170.6 1372.8h0M152.4 1372.6h0M166.7 1372.1h0M160.1 1371.9h0M141.6 1371.3h0M134.6 1371h0M145.6 1371h0M127.9 1370.6h0M156.6 1370h0M149.5 1369.8h0M163.7 1369.3h0M138.1 1369.2h0M173.8 1369h0M169.9 1368.5h0M153.1 1368.1h0M130.9 1368h0M143.2 1367.7h0M160.3 1367.3h0M134.7 1366.8h0M124.7 1366.5h0M147 1366.4h0M166.7 1366.1h0M156.6 1365.8h0M139.7 1365.5h0M175.8 1365h0M150.7 1364.9h0M128.1 1364.5h0M170.5 1364.2h0M163.2 1364h0M143.2 1363.5h0M132 1363.4h0M136 1363h0M159.4 1362.8h0M154.4 1362.5h0M147.3 1362.2h0M167.2 1361.9h0M178.9 1361.5h0M139.5 1361.2h0M175 1361.1h0M125 1360.7h0M150.9 1360.6h0M129 1360.2h0M163.8 1359.8h0M144 1359.6h0M157.2 1359.5h0M171.6 1359h0M132.8 1358.9h0M120.6 1358.7h0M136.7 1358.3h0M147.7 1358.1h0M167.7 1357.9h0M153.7 1357.7h0M140.6 1357.4h0M160.9 1357h0M175.5 1356.8h0M181.3 1356.5h0M123.8 1356.3h0M130 1356h0M144.2 1355.6h0M157.2 1355.5h0M150.5 1355.2h0M172 1354.9h0M134.6 1354.8h0M165.4 1354.6h0M185.5 1354.1h0M120.4 1353.9h0M178.3 1353.8h0M138.4 1353.6h0M154 1353.2h0M161.3 1352.9h0M147.1 1352.9h0M125 1352.4h0M131.3 1352.2h0M169.1 1352h0M182.2 1351.9h0M174.9 1351.7h0M141.8 1351.5h0M157.8 1351h0M150.6 1351h0M164.8 1350.6h0M115.4 1350.5h0M134.7 1350.1h0M121 1350h0M178.8 1349.8h0M127.8 1349.6h0M145.2 1349.3h0M154.2 1349.2h0M172.1 1348.9h0M138.4 1348.6h0M161.5 1348.3h0M168.1 1348.2h0M185.6 1348h0M112.3 1347.7h0M131.3 1347.6h0M148.7 1347.4h0M123.9 1347.2h0M157.8 1346.9h0M116.9 1346.8h0M141.8 1346.6h0M176.9 1346.3h0M134.9 1346h0M164.8 1345.9h0M152.3 1345.7h0M182.7 1345.4h0M170.8 1345.1h0M145.5 1345h0M120.4 1344.8h0M188.1 1344.6h0M126.8 1344.5h0M161.2 1344.3h0M138.4 1344.1h0M112.8 1343.7h0M130.7 1343.6h0M156.1 1343.3h0M149.1 1343.3h0M179.4 1343h0M167.5 1342.8h0M175.5 1342.6h0M142.1 1342.4h0M117.2 1342.1h0M123.4 1342.1h0M185.2 1341.8h0M134.2 1341.6h0M152.6 1341.4h0M163.9 1341.2h0M171.8 1341h0M145.7 1340.8h0M191.5 1340.6h0M159.9 1340.5h0M127.6 1340.2h0M137.9 1340h0M113.7 1339.8h0M181.8 1339.7h0M120.2 1339.4h0M156.1 1339.2h0M149.3 1339.1h0M177.9 1338.9h0M168.5 1338.7h0M188.1 1338.5h0M142.1 1338.2h0M124 1338.2h0M130.8 1337.8h0M174.1 1337.6h0M134.8 1337.4h0M164.8 1337.2h0M152.8 1337.1h0M145.8 1336.8h0M160.9 1336.6h0M115.8 1336.4h0M184.8 1336.1h0M138.5 1336.1h0M180.9 1335.7h0M127.1 1335.6h0M170.8 1335.3h0M157.1 1335.1h0M149.4 1334.9h0M119.4 1334.6h0M177.1 1334.4h0M142.1 1334.2h0M123.3 1333.9h0M130.7 1333.8h0M167.2 1333.6h0M134.6 1333.4h0M162.9 1333h0M153.8 1332.9h0M145.8 1332.7h0M116.1 1332.3h0M173.8 1332.1h0M138.4 1331.9h0M181.9 1331.6h0M126.5 1331.5h0M159.4 1331.2h0M150.3 1331h0M170.1 1330.7h0M178 1330.4h0M142 1330.1h0M119.3 1329.9h0M166.2 1329.8h0M129.9 1329.5h0M155.8 1329.3h0M135.1 1329.1h0M146.5 1328.8h0M123 1328.4h0M162.5 1328.2h0M174.9 1328h0M138.8 1327.6h0M152.2 1327.6h0M180.9 1327.3h0M126.8 1327h0M171.1 1326.8h0M158.9 1326.6h0M142.9 1326.2h0M131.8 1325.9h0M167.2 1325.7h0M148.8 1325.5h0M135.7 1325.1h0M155.3 1324.8h0M120.3 1324.7h0M178.1 1324.5h0M163.5 1324.2h0M174.2 1323.7h0M139.4 1323.7h0M128.1 1323.2h0M145.2 1323h0M151.8 1322.8h0M159.9 1322.4h0M170.4 1322.3h0M123.3 1322h0M131.8 1321.7h0M166.5 1321.5h0M135.7 1321h0M156.2 1320.9h0M148.4 1320.6h0M141.6 1320.4h0M178.5 1319.9h0M162.9 1319.7h0M173.9 1319.3h0M126 1319h0M152.9 1318.7h0M170 1318.4h0M145 1318.1h0M159.3 1318h0M131.4 1317.6h0M137.5 1317.4h0M166.2 1317.2h0M149.4 1316.7h0M176.7 1316.4h0M141.3 1316.2h0M155.9 1315.9h0M162.5 1315.6h0M127 1315.2h0M134.4 1314.9h0M173.1 1314.6h0M145.8 1314.2h0M152.4 1314h0M169.2 1313.6h0M138 1313.3h0M159.3 1313.2h0M130.1 1312.6h0M165.4 1312.4h0M141.9 1312.3h0M149 1311.8h0M155.7 1311.5h0M176.7 1311.1h0M133.7 1310.9h0M172.8 1310.5h0M145.2 1310.1h0M162.3 1309.8h0M152.2 1309.5h0M137.4 1309.3h0M127.4 1308.9h0M169.2 1308.7h0M158.7 1308.2h0M148.5 1307.9h0M131.2 1307.6h0M140.8 1307.2h0M165.6 1307.1h0M155 1306.5h0M144.6 1306.1h0M134.8 1305.8h0M172.5 1305.6h0M162 1305.2h0M151.3 1305h0M127.7 1304.4h0M168.8 1304.1h0M138.3 1304h0M158.3 1303.7h0M131.5 1303.2h0M142.1 1302.8h0M146.1 1302.4h0M154.6 1302.2h0M165.4 1302h0M135.1 1301.3h0M149.9 1301.2h0M173.5 1300.6h0M161.7 1300.5h0M169.4 1300.1h0M138.6 1299.5h0M157.8 1299.4h0M143.6 1299.1h0M152.9 1298.6h0M130.8 1298.1h0M166.2 1297.7h0M148.1 1297.4h0M172 1296.9h0M134.5 1296.7h0M162.5 1296.2h0M140.7 1296.1h0M156.4 1295.7h0M144.6 1295.2h0M151.3 1294.9h0M129.1 1294.3h0M169.3 1294h0M137.1 1293.7h0M165.3 1293.1h0M147.8 1292.9h0M160.7 1292.6h0M154.5 1292.1h0M131.9 1291.6h0M140.2 1291.1h0M144.2 1291h0M151 1290.4h0M168.3 1289.9h0M135.5 1289.7h0M164.4 1289.3h0M158.9 1289h0M147.3 1288.5h0M154.3 1288.1h0M130.3 1287.6h0M138.8 1287.4h0M142.7 1286.6h0M150.7 1286.4h0M162.1 1286h0M168.7 1285.4h0M158.2 1285.1h0M133.1 1284.7h0M145.8 1284.2h0M154.3 1284h0M139.6 1283.4h0M165.5 1283h0M150.7 1282.3h0M161.6 1281.9h0M135.7 1281.7h0M143 1281.2h0M157.8 1280.9h0M146.9 1280.3h0M153.9 1279.7h0M168.5 1279.2h0M164.5 1278.9h0M138.2 1278.5h0M150.3 1278.1h0M160.8 1277.5h0M141.8 1276.9h0M156.8 1276.8h0M134.8 1276h0M145.7 1275.9h0M153.1 1275.3h0M166 1274.8h0M149.3 1274.1h0M138.2 1273.8h0M162.3 1273.3h0M142 1272.7h0M158.4 1272.4h0M145.9 1271.6h0M154.6 1271.4h0M165.7 1270.7h0M150.7 1270.4h0M139 1269.9h0M162 1269.2h0M142.9 1268.7h0M158.1 1268.3h0M146.7 1267.7h0M134.8 1267.1h0M154.4 1266.8h0M150.4 1266.2h0M163.4 1265.5h0M138.1 1264.9h0M142.1 1264.4h0M159.2 1263.7h0M145.9 1263.3h0M155.4 1262.6h0M151.4 1262.4h0M163.1 1261.5h0M138.9 1260.9h0M142.8 1260.2h0M148.2 1260h0M159.7 1259.4h0M155.8 1258.4h0M151.8 1258.2h0M163.2 1257.1h0M144.4 1256.6h0M138.4 1256.4h0M148.7 1255.7h0M160 1254.7h0M154.1 1254.4h0M141.4 1253.8h0M145.3 1252.7h0M150.7 1252.2h0M162.4 1251.3h0M158.4 1251.1h0M154.6 1250.1h0M147.3 1249.2h0M141.9 1249h0M151.1 1248.1h0M157.9 1247h0M144.6 1246h0M154.3 1245.2h0M148.5 1245.1h0M160.6 1244h0M140.6 1243h0M151.4 1242.4h0M157.6 1241.4h0M144.1 1241h0M148 1240.3h0M154.1 1239.4h0M140.7 1238.6h0M150.7 1237.3h0M157.8 1236.5h0M143.2 1235.5h0M147.2 1235h0M154.6 1234h0M150.7 1233.1h0M157.9 1231.5h0M147.3 1230.4h0M143.3 1229.5h0M154.6 1229.3h0M150.7 1228.4h0M159.6 1226.5h0M145.2 1226h0M148.9 1224.6h0M156.4 1224.1h0M152.5 1222.9h0M143.5 1221.8h0M147.4 1220.9h0M155 1219.6h0M151 1219.2h0M145.2 1217.4h0M157.8 1216.2h0M148.9 1215.8h0M154.2 1214.4h0M144.3 1213h0M150.8 1212.3h0M157.7 1211.4h0M147.3 1210.4h0M154.7 1208.9h0M150.7 1208.3h0M144.1 1206.1h0M147.9 1205.1h0M154.9 1204.1h0M151.1 1202.7h0M143.7 1201.8h0M147.6 1200.9h0M154.6 1199.4h0M150.7 1198.4h0M143.8 1196.6h0M147.6 1195.6h0M154.1 1195h0M150.7 1193h0M157.7 1192h0M147.3 1190.7h0M154.6 1189.4h0M150.7 1188.6h0M143.8 1186.8h0M147.6 1185.5h0M154.5 1184.4h0M150.7 1183.1h0M157.7 1181.8h0M147.4 1180.9h0M154.7 1179.2h0M150.7 1178.7h0M144.2 1177h0M147.9 1175.5h0M154.5 1174.8h0M151 1172.9h0M147.4 1171.2h0M154.6 1169.8h0M150.7 1168.9h0M145 1166.4h0M148.8 1165.3h0M154.9 1164.3h0M151.4 1162.3h0M147.7 1160.9h0M154.2 1159.4h0M150.5 1158h0M153.5 1155.4h0M147.1 1154.3h0M150.7 1152.5h0M155.1 1150.6h0M147.2 1148.4h0M151.8 1148.3h0M149.5 1145.1h0M154.5 1142.6h0M150.7 1141.3h0M154.2 1138.2h0M150.7 1136.2h0M150.7 1131.9h0M253.4 1407.2h0M259.2 1402.6h0M253.5 1397.9h0M264.1 1393h0M245.7 1391.4h0M257.7 1389.2h0M251 1386.2h0M267 1385.1h0M239.3 1382.6h0M260.5 1381.5h0M246.1 1379.7h0M253.5 1379.3h0M273 1377h0M234.1 1375.4h0M265.8 1375h0M258.8 1372.6h0M245 1372.3h0M277.4 1370.7h0M252 1369.9h0M236.2 1368.4h0M270.9 1367.1h0M263.5 1366.6h0M242.6 1364.6h0M256.6 1364.1h0M224.2 1363h0M249.5 1361.9h0M231.3 1361.2h0M273.8 1360.3h0M284.2 1359h0M266.7 1358.1h0M237.7 1357.5h0M259.6 1356.2h0M244.9 1355.7h0M252.3 1355.1h0M226.9 1354h0M279.5 1353.3h0M272.1 1352.4h0M233.7 1351.1h0M265 1350.6h0M240.9 1349.4h0M248.2 1348.7h0M255.6 1348.5h0M210.7 1347h0M218.1 1346.2h0M285.9 1346.1h0M225.3 1344.8h0M275.3 1344.4h0M262.4 1343.6h0M232.4 1342.5h0M243.7 1342.3h0M253.5 1341.4h0M293.5 1340.3h0M282.2 1339.7h0M270 1339.2h0M216.9 1338.1h0M237.8 1337.5h0M225.2 1336.9h0M260.3 1336.5h0M246.3 1335.4h0M288.5 1334.8h0M277.3 1334.2h0M253.5 1333.6h0M266.7 1332.5h0M230.8 1332.1h0M219.5 1331.1h0M239.4 1330.2h0M283.2 1329.7h0M260.2 1329.1h0M273.1 1328.1h0M246.3 1327.5h0M225.2 1326.5h0M253.5 1326h0M232.5 1324.9h0M266.8 1324.2h0M291.1 1323.6h0M279.5 1323.3h0M239.5 1322.6h0M260 1321.3h0M218 1320.7h0M246.4 1320.1h0M273.1 1319.5h0M225.2 1318.9h0M253.5 1317.8h0M287.5 1317.2h0M232.2 1316.5h0M280.2 1315.7h0M267.4 1314.9h0M239.3 1314.6h0M260 1313.8h0M246.4 1312.5h0M219 1311.9h0M226.3 1311.2h0M274.5 1311.1h0M253.5 1310.3h0M288.6 1309.4h0M233.3 1308.6h0M281.4 1307.7h0M268 1307.4h0M240.4 1306.4h0M260.8 1306h0M247.7 1305.3h0M220.2 1304.1h0M227.6 1303.5h0M276 1302.7h0M254.4 1302.2h0M234.7 1301.3h0M289.5 1300.8h0M269.2 1300h0M241.7 1299h0M282.6 1298.2h0M262 1298h0M248.9 1297.2h0M222.6 1296h0M230.1 1295.4h0M276.1 1294.6h0M255.7 1294.2h0M215.7 1293.3h0M237 1292.7h0M287.4 1291.6h0M269.6 1291.2h0M243.9 1290.2h0M262.4 1289.2h0M224.9 1289h0M280.9 1288h0M253.5 1287.1h0M217.9 1286.3h0M231.6 1285.9h0M274.1 1285.2h0M238.9 1284.6h0M266.9 1283.3h0M246.2 1283.1h0M259.6 1282.4h0M286.9 1281.3h0M222.6 1280.6h0M252.7 1279.7h0M279.8 1279.2h0M229.6 1278.1h0M272.5 1277.8h0M237.1 1277h0M265.4 1275.9h0M244.4 1275.5h0M258.1 1274.6h0M284.6 1273.5h0M223.2 1272.8h0M251.1 1272.3h0M277.4 1271.6h0M230.3 1270.7h0M270.3 1269.6h0M237.5 1269.1h0M263 1268.6h0M244.7 1267.3h0M255.8 1266.6h0M290.1 1265.6h0M221.9 1264.8h0M282.9 1264h0M275.5 1263.6h0M231.8 1262.5h0M250 1262.1h0M239.1 1261.3h0M264.1 1260.4h0M256.8 1259.2h0M217.7 1258.4h0M225.1 1258.1h0M271.8 1257.2h0M244.6 1256.4h0M284.8 1255.6h0M231.7 1254.7h0M251.6 1253.9h0M261.8 1253.3h0M278.3 1252.1h0M238.1 1251.1h0M268.8 1250.5h0M225.4 1249.4h0M245.1 1248.8h0M256.3 1248.2h0M284.9 1246.9h0M231.9 1245.9h0M274.8 1245.6h0M263.8 1245h0M250.5 1243.7h0M238.6 1242.8h0M220.3 1241.9h0M280.9 1240.7h0M258.3 1240.1h0M271.3 1239h0M244.8 1238.8h0M226.3 1237.5h0M251.8 1236.4h0M233.5 1236.1h0M265 1235.2h0M278.4 1233.7h0M240.1 1232.7h0M258.1 1232.5h0M271.5 1231.1h0M247.2 1230.6h0M223.2 1229.1h0M230.5 1228.2h0M264.9 1227.7h0M253.5 1226.7h0M237.3 1225.2h0M278.9 1224.5h0M271.6 1223.3h0M246.9 1222.6h0M260.5 1221.7h0M231 1220h0M253.5 1219.3h0M240.3 1218.5h0M267.1 1217.4h0M279.5 1216.1h0M246.9 1215.1h0M260.6 1213.8h0M234 1213.3h0M253.5 1211.7h0M274.4 1210.8h0M267.2 1209.5h0M239.5 1208.4h0M246.9 1207.2h0M260.6 1206h0M228 1204.8h0M253.5 1204h0M273.3 1202.9h0M234.6 1201.5h0M266.4 1200.3h0M241.7 1199.5h0M259.2 1198.3h0M248.9 1197.5h0M227.2 1195.6h0M274.1 1194.1h0M234.4 1193.6h0M254.5 1192.7h0M266.5 1191.4h0M240.8 1189.9h0M248.1 1188.9h0M272.7 1186.8h0M260.8 1186.7h0M234.1 1185.2h0M253.8 1184.2h0M266.9 1182.2h0M240.1 1180.8h0M247.5 1180.3h0M260.2 1179.2h0M230 1177.4h0M253.5 1176h0M272.7 1174.3h0M236.6 1174.1h0M265.5 1172.7h0M243.4 1171.4h0M258.6 1170h0M250.3 1168.7h0M235.8 1166.7h0M272 1165.5h0M264.6 1164.6h0M255.5 1163.3h0M241.3 1161.8h0M248.6 1160.5h0M261 1158.2h0M272.3 1157.4h0M254.1 1155.5h0M241 1153.6h0M266.7 1152.6h0M248 1151.3h0M260.4 1148.7h0M237.1 1147h0M253.4 1146.3h0M270.1 1144.2h0M242.3 1141.8h0M263.5 1140.8h0M256.3 1139.5h0M248.6 1137.9h0M242.1 1134.3h0M253.7 1132.5h0M266.5 1131.3h0M247.2 1128.9h0M260.7 1126.8h0M253.5 1125h0M267.2 1121h0M260 1119.3h0M246.4 1117.8h0M253.5 1115.7h0M259.9 1111.5h0M253.5 1107.8h0M352.8 1117.3h0M360.6 1149.6h0M352.8 1165h0M358.5 1195h0M341.1 1201.8h0M369.8 1203.1h0M352 1211.7h0M360.6 1226.8h0M344.2 1243h0M348.9 1252.9h0M364.5 1248.7h0M356.7 1273.2h0M324.1 1291.7h0M329.9 1302.9h0M340.3 1302.9h0M350.7 1300.8h0M370.3 1300.8h0M381.2 1302.9h0M389 1296.4h0M360.6 1307.4h0M324.1 1314.7h0M381.2 1317.3h0M349.4 1328.5h0M341.6 1346.7h0M360.6 1342.8h0M364.5 1359h0M348.1 1368.1h0M355.4 1370.7h0M150.7 1106h0" stroke="#000" stroke-width="4.8" stroke-linecap="round" fill="none"/>
<path d="M151.1 1182.5V1281.3M151.1 1348V1390M112.6 1281.3H189.6V1348H112.6Z" stroke="#BEBEBE" stroke-width="1.7" fill="none"/>
<path d="M112.6 1322H189.6" stroke="#BEBEBE" stroke-width="3.2" fill="none"/>
<path d="M253.2 1118V1222.6M253.2 1327.7V1403.3M215 1222.6H291.5V1327.7H215Z" stroke="#BEBEBE" stroke-width="1.7" fill="none"/>
<path d="M215 1279H291.5" stroke="#BEBEBE" stroke-width="3.2" fill="none"/>
<path d="M356 1117.8V1222.9M356 1314.7V1370.7M317.6 1222.9H394.3V1314.7H317.6Z" stroke="#BEBEBE" stroke-width="1.7" fill="none"/>
<path d="M317.6 1298H394.3" stroke="#BEBEBE" stroke-width="3.2" fill="none"/>
<rect x="89.4" y="1090.4" width="327.8" height="327.8" fill="none" stroke="#222" stroke-width="1.7"/>
<path d="M82.9 1352.5H89.4M82.9 1258.6H89.4M82.9 1164.7H89.4M150.7 1418.2V1425.2M253.5 1418.2V1425.2M355.7 1418.2V1425.2" stroke="#222" stroke-width="1.7" fill="none"/>
<text x="71.4" y="1360.7" font-size="23" text-anchor="end">0</text>
<text x="71.4" y="1266.8" font-size="23" text-anchor="end">2</text>
<text x="71.4" y="1172.9" font-size="23" text-anchor="end">4</text>
<text x="150.7" y="1455.2" font-size="23" text-anchor="middle">0</text>
<text x="253.5" y="1455.2" font-size="23" text-anchor="middle">1</text>
<text x="355.7" y="1455.2" font-size="23" text-anchor="middle">2</text>
<text x="253.3" y="1495.5" font-size="27" text-anchor="middle" textLength="261" lengthAdjust="spacingAndGlyphs">HLA-DRB1*04 copies</text>
<text transform="translate(36 1254) rotate(-90)" text-anchor="middle" font-size="28" textLength="194.5" lengthAdjust="spacingAndGlyphs">Anti-pV <tspan font-style="italic">Z</tspan> score</text>
<text x="11" y="1089.6" font-size="38" font-weight="bold">b</text>
<path d="M146.6 1902.9h0M161.9 1901.7h0M155.7 1900.7h0M149.6 1900.2h0M143.3 1899.4h0M159.4 1898.6h0M152.9 1897.9h0M146.4 1897h0M139.3 1896.6h0M156.4 1896h0M170.4 1895.3h0M163.7 1895.2h0M142.7 1894.6h0M149.4 1894.3h0M160 1893.5h0M153.3 1893.4h0M135 1892.6h0M145.9 1892.1h0M168.7 1891.7h0M138.8 1891.6h0M156.9 1891.1h0M163.9 1890.4h0M149.4 1890.3h0M142.4 1889.7h0M153.3 1889.3h0M171.4 1888.7h0M160.5 1888.4h0M167.5 1887.9h0M145.8 1887.7h0M138.7 1887.1h0M156.8 1886.8h0M174.9 1886.3h0M149.5 1886.2h0M164.2 1885.5h0M142.3 1885.4h0M153.3 1884.9h0M135 1884.5h0M160.4 1884.3h0M171.9 1883.6h0M145.8 1883.4h0M167.9 1883.1h0M138.6 1882.8h0M156.9 1882.4h0M149.5 1881.9h0M164.2 1881.5h0M142.3 1881.3h0M176.1 1880.8h0M153.3 1880.6h0M135.3 1880.2h0M160.6 1879.8h0M145.8 1879.3h0M172.5 1879h0M168.5 1878.7h0M139 1878.6h0M157 1878.1h0M132 1877.7h0M149.4 1877.5h0M164.8 1877.1h0M142.5 1876.8h0M153.3 1876.6h0M175.2 1875.9h0M135.4 1875.6h0M161.2 1875.5h0M171.3 1875h0M146 1874.8h0M139.2 1874.5h0M156.4 1874.1h0M167.5 1873.8h0M149.8 1873.5h0M126.3 1873.1h0M177.6 1872.7h0M142.7 1872.5h0M163.8 1872.2h0M159.8 1871.7h0M153.3 1871.5h0M129.7 1871h0M135.4 1870.8h0M174.4 1870.5h0M146 1870.3h0M169.7 1869.8h0M139.2 1869.7h0M149.9 1869.4h0M156.9 1869.1h0M165.9 1868.6h0M178.3 1868.2h0M132.4 1868.1h0M162 1867.7h0M153.3 1867.3h0M142.2 1867h0M172.6 1866.9h0M127.1 1866.5h0M135.9 1866.2h0M146 1865.9h0M168.8 1865.5h0M158.8 1865.3h0M149.9 1864.8h0M176.6 1864.6h0M165 1864.3h0M139.2 1863.9h0M129.8 1863.6h0M154 1863.3h0M143.1 1863.1h0M173 1862.8h0M133.7 1862.5h0M161.5 1862.3h0M146.9 1861.9h0M157.6 1861.5h0M169.4 1861.1h0M150.8 1860.9h0M126.3 1860.6h0M137 1860.3h0M165.5 1860.2h0M177.7 1859.8h0M140.9 1859.5h0M154.4 1859.1h0M130 1859h0M173.9 1858.6h0M162 1858.3h0M144.6 1857.9h0M133.8 1857.6h0M148.6 1857.4h0M158 1857.3h0M170.3 1856.8h0M180.5 1856.5h0M137.5 1856.3h0M166.4 1856.1h0M152.2 1855.8h0M126.9 1855.6h0M141.4 1855.2h0M176.9 1854.8h0M130.8 1854.7h0M161.4 1854.3h0M146 1854h0M155.8 1853.9h0M184.7 1853.5h0M173.2 1853.3h0M134.5 1853.1h0M169.2 1852.9h0M149.7 1852.6h0M165.2 1852.2h0M138.3 1852h0M181 1851.8h0M127.4 1851.4h0M142.3 1851.3h0M159.3 1851h0M153.3 1850.8h0M122.3 1850.3h0M177.3 1850.3h0M146 1849.8h0M131 1849.7h0M171.6 1849.4h0M135 1849.2h0M167.6 1849h0M163.6 1848.6h0M149.7 1848.3h0M156.5 1848.1h0M138.8 1847.9h0M183.3 1847.8h0M125 1847.4h0M142.7 1847.3h0M179.4 1846.9h0M175.4 1846.8h0M160.2 1846.5h0M128.8 1846.2h0M153 1846.1h0M146.4 1845.7h0M118.9 1845.6h0M171.6 1845.4h0M132.6 1845.1h0M167.7 1844.7h0M136.6 1844.5h0M163.7 1844.3h0M157 1844.1h0M140.5 1843.8h0M149.8 1843.6h0M185 1843.4h0M122.1 1843.1h0M181.1 1842.9h0M126.1 1842.8h0M177.1 1842.5h0M144.2 1842.3h0M153.5 1842.1h0M129.9 1841.8h0M173.2 1841.6h0M161 1841.4h0M133.9 1841.1h0M169.3 1841h0M137.9 1840.7h0M165.3 1840.5h0M147.7 1840.2h0M157.2 1840.1h0M192.2 1839.8h0M117.1 1839.7h0M188.2 1839.3h0M141.5 1839.1h0M127 1838.9h0M151.4 1838.7h0M177 1838.5h0M120.9 1838.2h0M184.4 1838h0M131.4 1837.8h0M162.5 1837.7h0M173.2 1837.3h0M145 1837.2h0M167.4 1836.9h0M154.9 1836.8h0M135.2 1836.6h0M110.5 1836.4h0M180.9 1836.1h0M158.8 1836h0M139.1 1835.8h0M148.7 1835.6h0M193.7 1835.3h0M123.5 1835.2h0M128 1835.1h0M189.8 1834.7h0M177.3 1834.5h0M170.6 1834.3h0M164.5 1834.1h0M142.7 1833.9h0M152.3 1833.8h0M132.6 1833.5h0M113.2 1833.4h0M117.2 1833.2h0M156.2 1833h0M186.3 1832.8h0M136.5 1832.6h0M160.9 1832.5h0M146.2 1832.1h0M121 1832h0M182.4 1831.8h0M125.3 1831.6h0M174.7 1831.4h0M129.3 1831.3h0M168.2 1831.1h0M140.1 1830.8h0M149.9 1830.6h0M195.6 1830.4h0M190.9 1830.2h0M164.3 1830.1h0M178.9 1829.8h0M153.8 1829.8h0M132.9 1829.5h0M158.4 1829.3h0M143.7 1829.1h0M118.2 1829h0M187.2 1828.7h0M171.8 1828.7h0M122.8 1828.4h0M112.9 1828.1h0M136.6 1828.1h0M183.3 1827.9h0M126.7 1827.7h0M175.7 1827.5h0M147.3 1827.4h0M161.7 1827h0M193.8 1826.9h0M140.4 1826.8h0M151.4 1826.6h0M166.1 1826.3h0M155.9 1826.3h0M130.4 1826.1h0M190 1825.7h0M180 1825.6h0M119.9 1825.4h0M169.9 1825.1h0M134.2 1824.9h0M115.1 1824.8h0M143.8 1824.7h0M186.2 1824.5h0M123.7 1824.2h0M173.8 1824h0M159.2 1823.9h0M148.5 1823.6h0M137.9 1823.5h0M163.5 1823.2h0M153.4 1823.1h0M192.8 1822.8h0M127.4 1822.5h0M182.7 1822.5h0M177.9 1822.2h0M131.3 1822.1h0M117.6 1821.7h0M167.9 1821.7h0M141.4 1821.5h0M189.1 1821.1h0M145.4 1821h0M156.9 1820.7h0M171.9 1820.4h0M134.9 1820.3h0M150.7 1820.2h0M161.4 1819.8h0M185.5 1819.6h0M120.9 1819.5h0M124.9 1819.3h0M180.6 1819.1h0M128.9 1818.8h0M165.4 1818.5h0M176.7 1818.4h0M138.3 1818.2h0M154 1817.9h0M142.6 1817.6h0M169.4 1817.3h0M146.6 1817.2h0M158.7 1816.9h0M188.5 1816.6h0M132.1 1816.4h0M173.3 1816.3h0M150.4 1816h0M184.6 1815.7h0M162.8 1815.5h0M121.1 1815.3h0M126.5 1815h0M135.8 1814.9h0M139.8 1814.4h0M166.8 1814.3h0M155.9 1814.1h0M181 1813.8h0M143.7 1813.7h0M177.1 1813.3h0M170.8 1813.2h0M147.6 1812.9h0M129.7 1812.5h0M152.2 1812.5h0M160.6 1812.2h0M185.7 1811.8h0M122.7 1811.7h0M133.5 1811.4h0M137.5 1811.1h0M164.6 1810.9h0M174.2 1810.5h0M141.4 1810.2h0M157.1 1810.2h0M168.5 1809.9h0M145.3 1809.5h0M149.5 1809.4h0M182.9 1809h0M125.5 1808.8h0M153.4 1808.6h0M129.6 1808.3h0M179 1808h0M162.2 1807.8h0M134.5 1807.5h0M172 1807.2h0M138.5 1807h0M166.1 1806.7h0M158.4 1806.4h0M142.4 1806.1h0M147 1805.9h0M175.9 1805.5h0M151 1805.5h0M183.8 1805h0M126.4 1804.9h0M154.9 1804.5h0M130.3 1804.3h0M169.6 1804h0M163.5 1803.6h0M180.2 1803.4h0M134.1 1803.1h0M139.6 1802.9h0M144.2 1802.6h0M159.7 1802.4h0M174 1802h0M148.2 1801.7h0M152.2 1801.6h0M166.8 1801.1h0M126.9 1800.8h0M156.1 1800.6h0M177.7 1800.2h0M130.8 1800.1h0M170.6 1799.8h0M136 1799.6h0M140.8 1799.1h0M163.5 1798.8h0M145.4 1798.5h0M159.6 1798.3h0M149.3 1797.8h0M153.3 1797.7h0M175.1 1797.2h0M180.6 1797h0M133 1796.7h0M127.2 1796.3h0M169 1796.2h0M137.6 1795.9h0M142.5 1795.5h0M156.9 1795.3h0M162.3 1794.9h0M146.4 1794.5h0M177.8 1794.2h0M151.3 1794h0M130.1 1793.5h0M173.8 1793.4h0M134 1792.8h0M167 1792.7h0M139.5 1792.4h0M159.5 1792.1h0M155.5 1791.6h0M143.3 1791.2h0M170.7 1790.9h0M147.9 1790.8h0M163.8 1790.3h0M151.8 1790h0M176.8 1789.7h0M130.7 1789.1h0M135.4 1789.1h0M167.4 1788.6h0M157.8 1788.2h0M140.8 1787.7h0M145.2 1787.7h0M173.7 1787.2h0M149.1 1786.8h0M162.2 1786.7h0M153.1 1786.2h0M132.6 1785.6h0M137.3 1785.5h0M170.3 1785.1h0M166.3 1784.8h0M156.6 1784.3h0M142.5 1784.1h0M146.5 1783.7h0M160.5 1783h0M150.3 1782.7h0M175.7 1782.4h0M134.6 1782.2h0M138.6 1781.8h0M154.1 1781.3h0M165 1781h0M172.1 1780.5h0M158 1779.9h0M142.1 1779.8h0M147.6 1779.4h0M168.6 1778.7h0M161.9 1778.5h0M151.4 1778.3h0M134.8 1777.7h0M138.7 1777.2h0M155.2 1777h0M144.4 1776.5h0M165.7 1775.9h0M159.3 1775.4h0M148.1 1775.1h0M171.5 1774.5h0M152.3 1774.3h0M141 1773.9h0M135.1 1773.3h0M162.9 1773h0M144.7 1772.4h0M156.9 1772.2h0M168.7 1771.7h0M149.4 1771.3h0M138.1 1770.7h0M153.3 1770.4h0M160.4 1770h0M165.4 1769.5h0M141.7 1768.9h0M145.7 1768.5h0M156.9 1768h0M134.5 1767.3h0M149.4 1766.9h0M162.9 1766.4h0M153.3 1766.2h0M138.1 1765.7h0M169.2 1765.3h0M142.2 1764.5h0M159.5 1764.2h0M146.8 1763.8h0M165.7 1763.4h0M150.7 1762.8h0M155.2 1762.3h0M138.9 1761.7h0M143.9 1761h0M162.9 1760.6h0M158.9 1760.3h0M147.8 1759.7h0M152.6 1759.3h0M166.5 1758.4h0M140.6 1758.1h0M156.1 1757.4h0M144.4 1756.9h0M163.1 1756.3h0M149.7 1756.2h0M170 1755.5h0M159.3 1754.9h0M153.3 1754.5h0M139.8 1753.5h0M146.2 1753.3h0M167.4 1752.5h0M163.4 1752h0M156.9 1751.7h0M149.4 1751h0M142.4 1750.5h0M153.3 1750h0M160.4 1749.3h0M167 1748.5h0M145.7 1748.2h0M156.9 1747.4h0M149.4 1746.8h0M163.8 1746.1h0M153.3 1745.7h0M140.7 1744.7h0M160.2 1744.4h0M146.1 1743.5h0M156.4 1742.9h0M150 1742.6h0M164.1 1741.9h0M142.7 1741.3h0M153.4 1740.4h0M160.6 1739.9h0M146.2 1739.3h0M156.9 1738.4h0M150 1738.1h0M164.1 1737.5h0M142.7 1736.8h0M153.5 1736.2h0M160.5 1735.7h0M146.3 1735.1h0M150.2 1734h0M157.2 1733.4h0M166.3 1732.6h0M153.6 1731.9h0M162.5 1731.6h0M147.5 1730.8h0M142.1 1729.9h0M159 1729.7h0M151 1728.8h0M155.3 1728.1h0M145.1 1727.3h0M165.8 1726.6h0M161.8 1726.4h0M148.7 1725.4h0M152.7 1725.1h0M158.5 1724.2h0M141.5 1723.5h0M145.5 1723h0M155.2 1722h0M149.1 1721.3h0M162.9 1720.4h0M159 1719.8h0M152.4 1719.1h0M145.5 1718.1h0M156 1717.2h0M149.2 1716.6h0M162.5 1715.3h0M152.8 1714.8h0M158.8 1714h0M146.7 1712.8h0M155.4 1711.8h0M150.3 1711h0M159.6 1709.6h0M153.3 1708.4h0M146.1 1707.4h0M149.9 1706.2h0M158.2 1705.8h0M154.5 1704.3h0M147.1 1703.1h0M151 1702.3h0M158.3 1700.7h0M154.2 1699.9h0M150.7 1698.2h0M157.6 1696.8h0M153.8 1695.7h0M146.7 1694.5h0M150.5 1693.3h0M156.8 1692.2h0M153.3 1690.4h0M146.9 1688.2h0M156.8 1687.2h0M151.9 1686.3h0M148.1 1684.4h0M154.9 1683.7h0M151.3 1682h0M158.7 1680.5h0M153.7 1678.8h0M149.7 1678.3h0M157.2 1676.8h0M152.2 1675.1h0M146.9 1674.1h0M155.6 1673.1h0M159.9 1671.9h0M149.5 1671h0M153.3 1669.9h0M157.3 1668.9h0M145.5 1667.1h0M150.8 1666h0M155.3 1665.4h0M160 1663.8h0M147.5 1663.6h0M152.6 1662.4h0M157.2 1660.9h0M148.9 1659.9h0M153.9 1658.6h0M146.7 1656.5h0M150.6 1656.3h0M157 1654.9h0M153.3 1653.3h0M150.1 1651h0M157.1 1650.1h0M153.3 1648.7h0M156.5 1645.5h0M153.3 1643.2h0M257.4 1901.9h0M264.1 1896.6h0M257.4 1893.6h0M243.9 1891.7h0M251 1889.6h0M264.5 1888h0M257.4 1885.9h0M237.8 1884.1h0M274.8 1883.6h0M248.3 1882.1h0M268.4 1880h0M261 1879.4h0M241.2 1877.6h0M253 1876.3h0M282.9 1875.1h0M275.7 1873.6h0M266.5 1872.6h0M259.1 1872.2h0M243.7 1870.6h0M233.9 1869.7h0M252.7 1868.5h0M280.3 1867.7h0M272.9 1866.7h0M264.4 1865.2h0M239.2 1864.5h0M246.5 1863.8h0M257.4 1862.8h0M289.6 1861.8h0M231.7 1861h0M270.6 1859.7h0M282.7 1859.1h0M251.5 1858.3h0M263.6 1857.4h0M237.6 1856.5h0M276.5 1855.1h0M244.8 1854.7h0M257.2 1853.6h0M293.6 1852.5h0M269.8 1851.9h0M286.3 1851.3h0M250.4 1849.9h0M236 1849.1h0M263 1849h0M225.7 1848h0M275.5 1847.1h0M242.7 1846.1h0M256.4 1845.6h0M283.2 1844.6h0M268.7 1844.2h0M231.2 1843.1h0M219.2 1842.7h0M248.8 1841.9h0M262.1 1840.9h0M238 1840.1h0M278 1839.3h0M290.7 1838.8h0M255.2 1838.2h0M224.2 1837.2h0M271.2 1836.5h0M231.5 1835.7h0M284.4 1834.9h0M243.1 1834.7h0M264.3 1833.8h0M296.8 1832.8h0M250.1 1832.4h0M277.7 1831.7h0M257.4 1831.1h0M290 1829.9h0M234.6 1828.9h0M222.8 1828.2h0M271.3 1828.1h0M241.7 1826.9h0M263.4 1826.4h0M284.1 1825.5h0M249.7 1824.9h0M228.8 1823.8h0M277.1 1823h0M256.8 1823h0M291.6 1821.7h0M235.8 1821.4h0M270.1 1820.8h0M243.9 1819.8h0M262.9 1818.8h0M220.9 1817.8h0M285.4 1817.7h0M250.6 1816.9h0M228.1 1816.3h0M278.4 1815.2h0M238.5 1814.5h0M257.4 1813.9h0M271.3 1813.2h0M291.9 1812.1h0M245.2 1811.3h0M264.3 1811h0M284.7 1810.2h0M230.3 1809.3h0M252 1808.4h0M217.9 1807.5h0M277.9 1807.2h0M237 1806.2h0M270.6 1805.6h0M293.5 1804.7h0M260.9 1804.4h0M244 1803.6h0M223.7 1802.9h0M286.7 1801.6h0M254.1 1801.3h0M230.6 1800.4h0M276.5 1799.9h0M267.2 1799h0M237.8 1798.5h0M247.9 1797.3h0M260.1 1796.9h0M291.6 1795.8h0M225.3 1795.3h0M284.3 1794.6h0M272.7 1793.6h0M253.8 1793h0M232 1792.3h0M240.6 1791.7h0M265.8 1790.9h0M219.2 1789.5h0M279.2 1789.2h0M247.4 1788.6h0M259.1 1787.8h0M291.9 1786.8h0M272.8 1785.6h0M234.9 1785.5h0M224.4 1784.2h0M252.9 1783.7h0M265.9 1783h0M286.4 1781.9h0M241.1 1781.5h0M279 1780.9h0M259.2 1779.8h0M229.6 1778.9h0M272.2 1778.2h0M247.5 1777.7h0M217.1 1776.4h0M236.2 1775.6h0M265.6 1774.7h0M254.1 1774.4h0M283.4 1773.3h0M294 1772.6h0M223.2 1772.2h0M242.4 1771.6h0M272.4 1770.7h0M260 1769.9h0M230 1769.2h0M248.9 1768.1h0M289.2 1767h0M280.3 1766.6h0M267 1765.6h0M236.2 1765.2h0M255.2 1764.2h0M273.9 1762.8h0M243.2 1762.8h0M227.7 1761.6h0M261.6 1760.5h0M287.9 1759.7h0M280.5 1759h0M249.2 1758.4h0M269.1 1757.3h0M233 1756.4h0M256.1 1755.7h0M223.6 1754.7h0M240.1 1754.6h0M263 1753h0M276.6 1752.7h0M290.1 1751.6h0M246.7 1751.1h0M229.1 1749.8h0M269.9 1749.7h0M253.6 1748.4h0M283.7 1747.8h0M235.9 1746.9h0M260.6 1746h0M276.9 1745h0M242.7 1744h0M291 1743.5h0M268.2 1742.4h0M249.8 1741.8h0M230.5 1741.1h0M284.7 1739.7h0M257.5 1739.3h0M237.5 1738.7h0M276 1737.6h0M244.5 1736.4h0M264.6 1736h0M251.7 1734.7h0M289.8 1734h0M231.6 1733h0M282.6 1732.6h0M258.5 1731.8h0M272.9 1730.9h0M238.3 1729.8h0M245.6 1728.9h0M265.9 1728.4h0M252.8 1727.1h0M287.8 1726.3h0M280.5 1725.5h0M259.7 1724.4h0M232 1723.2h0M273.5 1722.9h0M239.6 1721.4h0M247 1721.1h0M266.8 1719.8h0M254.2 1719.5h0M226.6 1717.8h0M281.2 1717.4h0M233.8 1716h0M260.6 1715.7h0M274.3 1714.7h0M240.7 1713.5h0M248.1 1713h0M267.4 1712h0M255.2 1710.7h0M289.7 1709.6h0M282.3 1709.2h0M231.6 1708.4h0M261.7 1707.3h0M238.5 1705.8h0M249.6 1705.6h0M276.9 1704.2h0M269.5 1703.5h0M256.3 1702.3h0M286.3 1701.8h0M243.6 1700.4h0M263.5 1699.2h0M231.8 1698.3h0M250.4 1697.5h0M281 1696.6h0M273.6 1695.6h0M257.4 1695h0M237.3 1693.2h0M244.6 1692.3h0M265.2 1691.5h0M251.7 1690.2h0M279.4 1689.4h0M272.1 1688.3h0M259.1 1687.4h0M237.6 1685.8h0M245.9 1684.7h0M266.4 1683.6h0M253.1 1683h0M276.9 1681h0M259.9 1680h0M238.9 1678.6h0M246.2 1677.3h0M272 1675.5h0M254.3 1675.2h0M264.9 1673.4h0M240.8 1671.2h0M248.2 1670.1h0M258.8 1669.3h0M273.6 1667.1h0M266.5 1665.2h0M253.1 1664.6h0M241.4 1662.2h0M259.9 1661.8h0M273.4 1658.7h0M247.4 1657.9h0M254.7 1656.6h0M267.9 1653.7h0M260.7 1652.2h0M247.4 1649.7h0M254.6 1648h0M271.2 1646h0M264 1644.5h0M246.6 1641.3h0M257.4 1641.1h0M263.9 1636.9h0M250.1 1634.8h0M257.4 1633.4h0M265.1 1629.2h0M253.3 1627.3h0M259.9 1624h0M266.3 1619.5h0M255.1 1618.3h0M261.2 1614.1h0M257.4 1607.8h0M351.5 1647.7h0M355.1 1654.2h0M373.4 1651.3h0M363.2 1684.2h0M351.2 1701.7h0M378.9 1723.1h0M355.9 1731.1h0M371.1 1736.9h0M337.2 1742.1h0M345.5 1750.2h0M381.2 1750.2h0M330.6 1760.3h0M363.2 1758.3h0M386.4 1772.9h0M357.2 1787.7h0M340.8 1792.9h0M373.4 1790.3h0M382 1797.6h0M348.1 1806.5h0M325.4 1821.6h0M366.4 1821.1h0M350.7 1828.1h0M392.4 1827.6h0M371.6 1830.2h0M331.9 1833.9h0M376.8 1842.5h0M352 1855.5h0M361.1 1876.4h0M153.3 1630.3h0M153.3 1605.5h0M153.3 1908.8h0" stroke="#000" stroke-width="4.8" stroke-linecap="round" fill="none"/>
<path d="M153.6 1667.8V1776.5M153.6 1850.3V1905M114.7 1776.5H192.4V1850.3H114.7Z" stroke="#BEBEBE" stroke-width="1.7" fill="none"/>
<path d="M114.7 1820.3H192.4" stroke="#BEBEBE" stroke-width="3.2" fill="none"/>
<path d="M257.4 1608.3V1713.4M257.4 1834.1V1901M218.5 1713.4H296.2V1834.1H218.5Z" stroke="#BEBEBE" stroke-width="1.7" fill="none"/>
<path d="M218.5 1776.8H296.2" stroke="#BEBEBE" stroke-width="3.2" fill="none"/>
<path d="M361.1 1648.2V1735M361.1 1823.7V1876.4M322 1735H400.3V1823.7H322Z" stroke="#BEBEBE" stroke-width="1.7" fill="none"/>
<path d="M322 1779.9H400.3" stroke="#BEBEBE" stroke-width="3.2" fill="none"/>
<rect x="90.7" y="1589.5" width="332.3" height="332.5" fill="none" stroke="#222" stroke-width="1.7"/>
<path d="M84.2 1860.2H90.7M84.2 1765H90.7M84.2 1669.8H90.7M153.3 1922V1929M257.4 1922V1929M361.1 1922V1929" stroke="#222" stroke-width="1.7" fill="none"/>
<text x="72.7" y="1868.4" font-size="23" text-anchor="end">0</text>
<text x="72.7" y="1773.2" font-size="23" text-anchor="end">2</text>
<text x="72.7" y="1678" font-size="23" text-anchor="end">4</text>
<text x="153.3" y="1959" font-size="23" text-anchor="middle">0</text>
<text x="257.4" y="1959" font-size="23" text-anchor="middle">1</text>
<text x="361.1" y="1959" font-size="23" text-anchor="middle">2</text>
<text x="256.9" y="2001" font-size="27" text-anchor="middle" textLength="302.5" lengthAdjust="spacingAndGlyphs">HLA-DQA1*03:01 copies</text>
<text transform="translate(36 1756.5) rotate(-90)" text-anchor="middle" font-size="28" textLength="187.7" lengthAdjust="spacingAndGlyphs">Anti-L2 <tspan font-style="italic">Z</tspan> score</text>
<text x="11" y="1587" font-size="38" font-weight="bold">c</text>
<path d="M156 2454.1h0M152.9 2451.5h0M165.7 2450.1h0M148.6 2449.4h0M155.8 2448.7h0M162.6 2447.5h0M151.6 2446.7h0M158.9 2446.1h0M144.3 2445.6h0M155.1 2444.8h0M169.7 2444.3h0M165.7 2444.1h0M147.7 2443.5h0M161.8 2443.1h0M151.6 2442.6h0M158 2442h0M142.8 2441.4h0M175.4 2441h0M136.2 2440.8h0M171.4 2440.4h0M154.6 2439.9h0M146.3 2439.4h0M166.6 2439.1h0M139.5 2438.6h0M162.6 2438.5h0M158 2437.9h0M150 2437.8h0M180.8 2437.3h0M176.8 2436.9h0M170.1 2436.6h0M142.9 2436.5h0M153.6 2436h0M128.7 2435.8h0M134.2 2435.6h0M146.7 2435.2h0M160.9 2434.9h0M166.6 2434.6h0M173.7 2434.4h0M157 2434h0M137.7 2433.7h0M150.3 2433.6h0M184.1 2433.3h0M180.2 2432.9h0M131.2 2432.7h0M170.2 2432.5h0M141.5 2432.3h0M163.8 2431.8h0M153.8 2431.6h0M176.4 2431.4h0M146.6 2431.2h0M134.7 2430.7h0M159.2 2430.6h0M118.9 2430.3h0M188.7 2430.2h0M127.3 2429.9h0M167.4 2429.7h0M150.2 2429.5h0M173.2 2429.1h0M138.3 2428.9h0M131.1 2428.6h0M142.8 2428.5h0M155.9 2428.2h0M162.5 2428h0M121.9 2427.6h0M185.7 2427.5h0M181.7 2427.2h0M146.5 2427.1h0M177.7 2426.8h0M170 2426.7h0M134.3 2426.3h0M152.5 2426.2h0M166.1 2425.9h0M159.3 2425.7h0M197.1 2425.5h0M193.1 2425.2h0M139.4 2425.1h0M174.3 2424.8h0M124.5 2424.6h0M128.5 2424.4h0M143.3 2424.3h0M149.1 2424h0M155.7 2423.8h0M162.8 2423.6h0M116.8 2423.3h0M189.6 2423.2h0M183.4 2422.9h0M136.1 2422.7h0M170.9 2422.6h0M131.9 2422.4h0M179.1 2422.2h0M120.5 2421.9h0M167 2421.8h0M159.3 2421.6h0M152.1 2421.4h0M145.7 2421.1h0M197.5 2420.9h0M175.4 2420.8h0M139.5 2420.6h0M124.4 2420.5h0M193.6 2420.1h0M187.1 2420.1h0M155.7 2419.8h0M128.4 2419.6h0M163.8 2419.4h0M182 2419.2h0M134.2 2419.1h0M113.4 2418.8h0M172 2418.6h0M148.8 2418.6h0M117.3 2418.3h0M142.7 2418.1h0M121.3 2418h0M178.2 2417.8h0M160.2 2417.6h0M152.6 2417.3h0M167.3 2417.2h0M137.6 2416.9h0M196.8 2416.7h0M191.8 2416.5h0M185.4 2416.5h0M126.1 2416.2h0M130.1 2416h0M156.7 2415.8h0M174.9 2415.6h0M145.8 2415.6h0M163.8 2415.3h0M181.6 2415.1h0M133.9 2414.9h0M170.8 2414.8h0M140.7 2414.4h0M149.6 2414.4h0M117.3 2414.2h0M122 2414h0M188.9 2413.8h0M160.2 2413.5h0M153.5 2413.4h0M194.9 2413.2h0M178.3 2412.9h0M167.4 2412.7h0M184.7 2412.5h0M137.1 2412.4h0M125.5 2412.1h0M143.8 2411.9h0M131.3 2411.7h0M174.5 2411.6h0M156.9 2411.3h0M163.7 2411.2h0M119.5 2410.8h0M148 2410.6h0M170.7 2410.4h0M192.1 2410.4h0M181.5 2410.1h0M188.1 2409.9h0M140 2409.6h0M152.2 2409.5h0M160.2 2409.2h0M134.3 2409h0M122.9 2408.8h0M167.1 2408.7h0M126.9 2408.3h0M177.6 2408.2h0M144.7 2408h0M173.6 2407.7h0M155.7 2407.5h0M185.1 2407.2h0M130.7 2407.1h0M163.5 2406.8h0M148.6 2406.7h0M137.3 2406.4h0M181.3 2406.1h0M141.3 2405.9h0M170.2 2405.6h0M159.1 2405.3h0M152.4 2405.3h0M188.5 2404.9h0M123.7 2404.8h0M133.6 2404.3h0M177.8 2404.2h0M144.8 2404h0M166.7 2403.7h0M173.8 2403.4h0M155.7 2403.1h0M185 2403h0M162.8 2402.9h0M148.6 2402.6h0M137 2402.2h0M126.5 2402h0M130.5 2401.7h0M170.3 2401.6h0M140.9 2401.3h0M152.3 2401.1h0M159.3 2400.9h0M181.8 2400.6h0M177.8 2400.2h0M144.7 2400h0M166.8 2399.7h0M133.9 2399.6h0M173.9 2399.3h0M155.7 2399.1h0M162.9 2398.8h0M148.9 2398.6h0M124.2 2398.1h0M128.2 2398h0M137.4 2397.7h0M170.4 2397.4h0M141.4 2397.1h0M152.5 2396.8h0M159.5 2396.6h0M183.9 2396.4h0M145.2 2396h0M179.9 2395.9h0M166.8 2395.6h0M131.1 2395.3h0M176 2395.1h0M155.9 2394.8h0M163 2394.5h0M148.8 2394.3h0M126.2 2394h0M134.8 2393.7h0M138.8 2393.4h0M172.4 2393.3h0M142.7 2392.8h0M152.5 2392.7h0M159.6 2392.3h0M168.6 2392h0M183.7 2391.8h0M129.4 2391.6h0M179.7 2391.3h0M146.3 2391h0M156 2390.7h0M164.5 2390.4h0M175.9 2390.2h0M132.9 2389.7h0M150 2389.5h0M136.9 2389.4h0M172.1 2389h0M140.8 2388.5h0M161 2388.5h0M168.2 2388.1h0M184.3 2387.7h0M153.5 2387.6h0M144.6 2387.2h0M180.3 2387h0M157.4 2386.7h0M164.6 2386.3h0M176.4 2386h0M148.3 2385.8h0M129.3 2385.5h0M135.3 2385.2h0M172.6 2384.8h0M139.3 2384.7h0M161.1 2384.4h0M168.7 2384h0M151.8 2383.7h0M143 2383.3h0M155.7 2383.1h0M179.8 2382.7h0M132 2382.5h0M165.1 2382.2h0M175.9 2381.8h0M146.9 2381.7h0M135.7 2381.1h0M172 2380.8h0M159.6 2380.7h0M139.6 2380.4h0M150.5 2379.9h0M168.2 2379.6h0M143.5 2379.3h0M154.4 2379.2h0M178.5 2378.6h0M163.5 2378.5h0M131.7 2378h0M174.6 2377.7h0M147 2377.3h0M157.8 2377.1h0M135.6 2377h0M170.9 2376.3h0M141.1 2376.1h0M166.9 2375.8h0M150.6 2375.7h0M161.5 2375.1h0M154.5 2374.9h0M179.7 2374.4h0M144.5 2374h0M174.7 2373.7h0M137.8 2373.6h0M158.1 2373.1h0M131.9 2372.8h0M164.8 2372.4h0M148.1 2372.2h0M171.1 2371.8h0M141.2 2371.5h0M151.9 2371.2h0M177.9 2370.8h0M161.4 2370.3h0M135 2370.2h0M155.7 2369.9h0M168 2369.3h0M144.3 2369h0M174.6 2368.6h0M138.5 2368.4h0M148.2 2368.1h0M164.4 2367.7h0M152.1 2367.1h0M159.4 2366.9h0M178.1 2366.4h0M171.4 2366.3h0M141.6 2365.8h0M155.7 2365.4h0M134.8 2364.9h0M145.4 2364.8h0M162.4 2364.2h0M168.1 2364h0M149.3 2363.7h0M175.6 2363.2h0M138.2 2362.9h0M153 2362.4h0M157.7 2361.9h0M171.9 2361.7h0M141.9 2361.2h0M165.5 2360.9h0M145.8 2360.4h0M161.5 2360.3h0M134.5 2359.6h0M149.7 2359.5h0M155 2358.9h0M175.6 2358.7h0M138.3 2358.2h0M170.7 2357.9h0M143.1 2357.4h0M164.6 2356.9h0M160.2 2356.5h0M151.9 2356.2h0M146.8 2355.7h0M156.4 2355.1h0M174.1 2354.9h0M139.6 2354.4h0M169.5 2354h0M143.4 2353.4h0M162.9 2353.3h0M149.4 2352.7h0M153.4 2352.5h0M159.1 2352h0M136 2351.4h0M173.2 2351h0M167.2 2350.8h0M139.8 2350.4h0M144.8 2349.7h0M156 2349.4h0M163.7 2348.9h0M151.1 2348.5h0M170.5 2348h0M159.9 2347.6h0M137.1 2347h0M141.1 2346.6h0M147.1 2346.4h0M154.1 2345.9h0M167.4 2345.6h0M173.5 2344.9h0M163.4 2344.8h0M157.8 2344.3h0M143.7 2343.6h0M149.9 2343.5h0M138.2 2342.8h0M170.4 2342.4h0M154.5 2341.9h0M161 2341.6h0M165.9 2341.2h0M146.2 2340.4h0M141.2 2340.1h0M150.8 2339.6h0M157.6 2339.5h0M173.3 2338.7h0M169.3 2338.5h0M163.5 2338.1h0M154.2 2337.5h0M143.7 2337h0M147.7 2336.8h0M160.1 2336h0M139.2 2335.6h0M167.4 2335h0M151.1 2334.6h0M156.5 2334.2h0M171.3 2333.9h0M142.3 2333.2h0M164.1 2332.8h0M146.3 2332.6h0M160.2 2331.8h0M153.6 2331.4h0M136.5 2331.2h0M168.8 2330.8h0M149.6 2330.4h0M140.2 2329.7h0M157 2329.4h0M165.3 2328.9h0M144 2328.5h0M172.7 2328.1h0M161.5 2327.5h0M151.9 2327.1h0M169 2326.6h0M147.3 2326.2h0M155.6 2325.6h0M141.2 2325h0M165.4 2324.9h0M159.3 2324.1h0M173.4 2323.7h0M150 2323.3h0M144.6 2322.9h0M169.6 2322.4h0M153.8 2322h0M163.3 2321.5h0M136.7 2320.9h0M157.5 2320.5h0M140.7 2320.3h0M147.3 2320h0M167.2 2319.1h0M151.2 2318.9h0M160.9 2318.3h0M173.2 2318.1h0M154.9 2317.5h0M143.1 2317.1h0M137.8 2316.5h0M164.8 2316h0M146.8 2315.7h0M170.4 2315.2h0M150.7 2314.9h0M159.6 2314.5h0M140.7 2313.7h0M155.7 2313.6h0M167.3 2312.8h0M144.5 2312.4h0M163.3 2312.2h0M148.3 2311.4h0M152.5 2311.3h0M172.2 2310.6h0M159.8 2310.3h0M141 2309.4h0M155.9 2309.3h0M168.7 2308.5h0M144.9 2308.4h0M163.2 2307.6h0M148.7 2307.4h0M152.7 2306.9h0M159.5 2306.1h0M140.8 2305.4h0M166.7 2305h0M155.8 2304.4h0M144.5 2304h0M163 2303.6h0M148.4 2303.3h0M152.3 2302.5h0M159.3 2302.1h0M140.7 2301.4h0M166.8 2301h0M155.7 2300.3h0M144.4 2299.9h0M163.3 2299.1h0M148.2 2298.7h0M159.4 2298.1h0M152.1 2297.7h0M167.5 2296.9h0M155.8 2296.3h0M145.3 2295.4h0M163.9 2295.1h0M149.2 2294.7h0M160.1 2294h0M153 2293.4h0M171 2292.6h0M156.7 2291.9h0M167.2 2291.2h0M148.2 2290.7h0M163.4 2290.1h0M142.5 2289.5h0M151.8 2288.9h0M159.6 2288.8h0M155.7 2288h0M168.5 2287.3h0M145.3 2286.7h0M164.6 2286.1h0M149.2 2285.6h0M160.9 2284.8h0M153.1 2284.7h0M157 2283.9h0M142.3 2283h0M168 2283h0M146.3 2282.3h0M164.3 2281.3h0M149.9 2280.7h0M160.4 2280.7h0M155.7 2280.1h0M140 2279h0M167.8 2278.5h0M143.9 2278h0M152.2 2277.4h0M159.5 2276.8h0M164.6 2276.2h0M147.3 2276h0M155.7 2275.4h0M140 2274.4h0M168.4 2273.8h0M161.8 2273.3h0M149.8 2272.9h0M143.5 2272.4h0M153.7 2271.8h0M158.3 2271.4h0M166.2 2270.4h0M146.8 2270.1h0M140.4 2269.4h0M162.5 2268.8h0M155.7 2268.4h0M149.9 2267.6h0M170.4 2267.1h0M143.4 2266.7h0M166.6 2265.8h0M160.2 2265.6h0M152.9 2265h0M146.7 2264.4h0M156.7 2263.7h0M170.4 2262.9h0M164.1 2262.6h0M150 2262.1h0M160.4 2261.3h0M153.8 2260.9h0M143.2 2260.2h0M168 2259.8h0M157.2 2258.9h0M146.9 2258.7h0M150.9 2258.1h0M164.7 2257.5h0M160.8 2256.9h0M154.3 2256.1h0M141.3 2255.5h0M145.2 2254.9h0M149.2 2254.4h0M157.8 2254.1h0M168.9 2253.2h0M164.9 2252.9h0M152.6 2252.3h0M161.1 2251.6h0M143.8 2250.7h0M156.1 2250.5h0M149.3 2249.9h0M169.9 2249h0M165.6 2248.4h0M152.9 2248.2h0M160.1 2247.8h0M144.7 2246.8h0M156.4 2246.2h0M148.6 2245.9h0M169.4 2245.1h0M164.1 2244.7h0M152.2 2244.2h0M160.3 2243.4h0M144.6 2242.7h0M155.7 2242.3h0M167.7 2241.5h0M148.3 2241.4h0M163.4 2240.5h0M152.1 2239.9h0M159.5 2239.5h0M144 2238.4h0M155.7 2238.2h0M166.9 2237.6h0M147.5 2236.5h0M163.3 2235.8h0M151.3 2235.2h0M159.4 2234.9h0M143.6 2233.9h0M155.1 2233.8h0M165.9 2232.8h0M147.1 2231.9h0M162 2231.8h0M158.1 2231.2h0M150.6 2230.1h0M154.5 2229.3h0M167.3 2228.7h0M163.4 2227.9h0M144.4 2227.6h0M157.7 2226.9h0M148.2 2226.4h0M152.1 2225.6h0M166.2 2224.4h0M161.6 2224.3h0M155.6 2223.6h0M145.2 2222.7h0M149.7 2222.2h0M158.9 2221.4h0M164.7 2220.7h0M153.1 2220.1h0M146.7 2219h0M161.5 2218.3h0M157.6 2217.6h0M149.9 2216.7h0M153.9 2216.1h0M144.2 2215.1h0M164.8 2215h0M160.8 2214.2h0M156.9 2213.5h0M147.3 2212.6h0M152.1 2211.5h0M166.1 2210.6h0M159.7 2210.2h0M155.7 2209.7h0M148.6 2208.8h0M163.2 2207.9h0M152.3 2207.3h0M159.6 2206.1h0M155.7 2205.2h0M146.2 2204.8h0M150.1 2203.8h0M162.6 2202.7h0M158.6 2202.2h0M153.4 2201.5h0M146.2 2199.9h0M150.1 2198.9h0M156.4 2198.9h0M162.6 2197.1h0M153.2 2196.4h0M158.9 2195.7h0M149.6 2194.5h0M155.7 2193.3h0M161.1 2191.4h0M151 2190.8h0M157.5 2189.7h0M153.9 2187.9h0M159.5 2185.5h0M155.7 2184.4h0M150.8 2182.5h0M160.3 2181.1h0M153.8 2179.8h0M157.5 2178.2h0M154.4 2175.7h0M158.1 2174.2h0M155.1 2171.5h0M157.5 2168.3h0M154 2166.5h0M156.8 2163.7h0M154.3 2160.5h0M157.8 2158.6h0M155.7 2155.2h0M249.2 2439.5h0M263.2 2437.5h0M279.2 2435.5h0M255.5 2433.3h0M271.3 2431.7h0M239.2 2430.4h0M262.6 2428.1h0M247.6 2427.7h0M290.1 2425.6h0M281.4 2424.5h0M255.2 2423.3h0M270.2 2423h0M240.8 2421.5h0M302.4 2419.8h0M227.8 2419.5h0M262.6 2418.5h0M277.1 2416.8h0M247.9 2416.3h0M295.2 2414.9h0M234.9 2414.3h0M255.8 2412.4h0M269.7 2412h0M287.2 2411.2h0M221.3 2409.6h0M241.9 2409h0M279.1 2407.7h0M262.6 2406.8h0M249.9 2405.4h0M298.9 2404.8h0M228 2403.9h0M271.5 2403.3h0M290.7 2401.8h0M236.3 2401h0M256.7 2399.7h0M282.4 2398.7h0M244.5 2397.9h0M265.1 2397.2h0M301.6 2395.8h0M274.5 2394.8h0M230.4 2393.7h0M293.5 2392.4h0M251.2 2392h0M238.7 2390.9h0M259.8 2390.2h0M285.6 2388.5h0M268.9 2388.1h0M224 2386.5h0M277.3 2385.5h0M245.3 2385.1h0M296.8 2383.4h0M253.8 2382.8h0M262.6 2381.9h0M230.7 2380.8h0M289 2379.4h0M271.6 2378.9h0M239 2377.9h0M280.5 2377.1h0M247.4 2375.5h0M300 2374.8h0M256.1 2374h0M264.9 2373.2h0M227.6 2372.1h0M274.6 2370.5h0M236 2369.5h0M294 2368.4h0M284.2 2367.4h0M244.3 2366.7h0M253.1 2365.6h0M262.6 2364.6h0M302.3 2363.6h0M228.5 2362.6h0M271.8 2362.2h0M290 2360.5h0M237 2360.1h0M281.3 2359.1h0M245.4 2357.4h0M256.2 2357.3h0M265.7 2355.9h0M300.1 2355h0M228.5 2353.6h0M275.3 2352.8h0M292.1 2351.5h0M250.7 2350.4h0M236.4 2349.7h0M259.8 2349.3h0M284.1 2347.7h0M268.4 2347.3h0M303.7 2345.4h0M222.6 2344.5h0M243.1 2344.1h0M276.6 2343.2h0M251.6 2341.7h0M262.6 2340.6h0M297.3 2339.4h0M229.3 2338.8h0M288.5 2338.3h0M237.9 2336.7h0M271.1 2336.3h0M246.4 2334.5h0M255.1 2333.6h0M281.8 2332.6h0M263.7 2331.5h0M220.5 2330.8h0M298.8 2329.5h0M229 2328.8h0M239.8 2327.9h0M275 2327h0M250.1 2326.1h0M291 2325.4h0M258.7 2324.2h0M267.4 2322.6h0M282.8 2322.2h0M232.7 2320.8h0M242.8 2319.6h0M297.6 2318.7h0M275.1 2317.9h0M251.4 2317.1h0M289.2 2316.1h0M262.6 2315.2h0M224.9 2313.8h0M236.3 2312.7h0M281.7 2311.5h0M245 2311.1h0M272.4 2309.5h0M253.4 2308.5h0M295.7 2308.1h0M229.9 2306.5h0M262.6 2305.8h0M287.7 2304.5h0M238.2 2303.7h0M279 2303.1h0M246.9 2302.2h0M270.5 2300.9h0M255.4 2300h0M222.5 2299.4h0M231.1 2297.6h0M298.6 2296.9h0M263.2 2296h0M290.1 2294.7h0M242.2 2294.2h0M281.4 2293.2h0M250.7 2291.9h0M272.9 2291.2h0M225.6 2290.1h0M234.3 2289.4h0M258.7 2288.4h0M300.4 2287.1h0M291.7 2285.9h0M241.7 2284.5h0M278.3 2283.8h0M269.6 2283h0M250.1 2282.1h0M228.5 2281.2h0M261.3 2280h0M297.6 2278.5h0M287.3 2278.3h0M236.2 2277h0M274.7 2275.8h0M244.7 2274.7h0M253.5 2273.9h0M266.4 2272.8h0M221.9 2271.5h0M293.8 2270.6h0M283.9 2270.2h0M230.3 2268.9h0M259.5 2267.5h0M275.7 2267h0M238.7 2266.3h0M300.5 2264.7h0M247.3 2264.4h0M267.2 2263.3h0M292.1 2261.9h0M283.4 2261.2h0M254.7 2259.8h0M229.9 2258.8h0M275.1 2258.2h0M238.5 2256.7h0M262.6 2255.8h0M300.1 2254.8h0M246.9 2254h0M291.5 2253.1h0M282.7 2252.4h0M270 2251h0M254.4 2249.5h0M222.3 2248.6h0M231.1 2248.4h0M239.9 2247.4h0M262.6 2246.2h0M298.2 2244.8h0M279.9 2244.1h0M247.7 2243.4h0M289.8 2242.1h0M271.6 2240.9h0M225.7 2239.8h0M255.4 2239.1h0M234.3 2237.9h0M263.9 2236.8h0M283.5 2235.9h0M242.8 2235.5h0M301.2 2233.8h0M292.5 2233.4h0M275.4 2232.5h0M250.4 2231.1h0M228.9 2230.5h0M259.1 2229.5h0M267.8 2228.1h0M237 2227.1h0M287.1 2226.4h0M301.1 2224.5h0M245.1 2223.6h0M276.4 2222.9h0M253.7 2221.8h0M262.6 2221h0M230 2219.2h0M294.1 2219.1h0M285.3 2217.8h0M238.5 2216.8h0M272.7 2215h0M246.9 2214.2h0M255.7 2213.2h0M264.4 2212.1h0M293.3 2210.3h0M281.5 2209.9h0M230.4 2208.1h0M239.1 2206.9h0M273.6 2206h0M251.8 2204.9h0M262.6 2203.4h0M290.3 2202.1h0M281.5 2200.9h0M242.8 2199h0M270.5 2197.8h0M254.1 2196.4h0M262.6 2193.9h0M278.2 2192.7h0M246.2 2190.8h0M270.8 2188h0M254 2186.8h0M262.6 2184.7h0M277.2 2181h0M268.9 2178.1h0M252.8 2175.6h0M261.3 2173.6h0M268.7 2168.8h0M262.6 2162.4h0M335.1 2206.5h0M374.2 2203.3h0M400.8 2207.8h0M359.1 2216.1h0M378.1 2229.2h0M348.1 2235.7h0M374.2 2290.2h0M361.1 2362.1h0M369.8 2370.2h0M155.7 2148.2h0M155.7 2461.2h0" stroke="#000" stroke-width="4.8" stroke-linecap="round" fill="none"/>
<path d="M155.4 2150.4V2293.8M155.4 2409.9V2462M115.3 2293.8H195.6V2409.9H115.3Z" stroke="#BEBEBE" stroke-width="1.7" fill="none"/>
<path d="M115.3 2366.3H195.6" stroke="#BEBEBE" stroke-width="3.2" fill="none"/>
<path d="M263 2159.5V2241.1M263 2374.7V2443.7M223 2241.1H303V2374.7H223Z" stroke="#BEBEBE" stroke-width="1.7" fill="none"/>
<path d="M223 2299.6H303" stroke="#BEBEBE" stroke-width="3.2" fill="none"/>
<path d="M369.9 2203V2207.8M369.9 2289.9V2370M329.9 2207.8H409.9V2289.9H329.9Z" stroke="#BEBEBE" stroke-width="1.7" fill="none"/>
<path d="M329.9 2229.2H409.9" stroke="#BEBEBE" stroke-width="3.2" fill="none"/>
<rect x="90.7" y="2135.3" width="343.5" height="343.1" fill="none" stroke="#222" stroke-width="1.7"/>
<path d="M84.2 2394.2H90.7M84.2 2293.4H90.7M84.2 2192.6H90.7M155.7 2478.4V2485.4M262.6 2478.4V2485.4M369.8 2478.4V2485.4" stroke="#222" stroke-width="1.7" fill="none"/>
<text x="72.7" y="2402.4" font-size="23" text-anchor="end">0</text>
<text x="72.7" y="2301.6" font-size="23" text-anchor="end">2</text>
<text x="72.7" y="2200.8" font-size="23" text-anchor="end">4</text>
<text x="155.7" y="2515.4" font-size="23" text-anchor="middle">0</text>
<text x="262.6" y="2515.4" font-size="23" text-anchor="middle">1</text>
<text x="369.8" y="2515.4" font-size="23" text-anchor="middle">2</text>
<text x="262.4" y="2561" font-size="27" text-anchor="middle" textLength="251.6" lengthAdjust="spacingAndGlyphs">HLA-DRB1*13 copies</text>
<text transform="translate(36 2306.2) rotate(-90)" text-anchor="middle" font-size="28" textLength="259.5" lengthAdjust="spacingAndGlyphs">Anti-EBNA–5 <tspan font-style="italic">Z</tspan> score</text>
<text x="11" y="2149" font-size="38" font-weight="bold">d</text>
<path d="M650.9 1524.6h0M681.9 1525h0M645.6 1523.2h0M642.7 1523.2h0M685.6 1522.9h0M670.8 1523.1h0M653.5 1523.8h0M693.1 1524.3h0M633.1 1523.3h0M642.7 1525.1h0M691.1 1524.9h0M692.3 1524.7h0M701.3 1524.9h0M650.7 1525h0M667.5 1524.8h0M673.2 1523.8h0M658.6 1523.8h0M654.9 1522.9h0M691.8 1524.9h0M704 1524.6h0M672.5 1524.7h0M641.8 1524.5h0M664.4 1523h0M646.8 1524.1h0M650.5 1523.9h0M744.3 1515.2h0M720.5 1515.9h0M725.8 1513.9h0M723.7 1514.9h0M717.7 1517.2h0M761.7 1515.1h0M749.9 1519.5h0M716.2 1513.1h0M754.3 1518.7h0M746 1513.3h0M614.3 1504.6h0M661.6 1503.5h0M593.3 1504.4h0M610.5 1501.9h0M586.7 1506.5h0M633.4 1502h0M594.2 1500.1h0M631.1 1499.6h0M608.9 1502.1h0M607.1 1494.3h0M589.4 1501.3h0M584.2 1493.1h0M579.9 1500.6h0M628.6 1498.8h0M576.9 1496.9h0M607.3 1490.7h0M573.3 1507h0M585.2 1494.4h0M599.9 1499.8h0M580.7 1497.5h0M609.7 1504h0M573.6 1495h0M622.7 1506.5h0M624.7 1497.5h0M640 1494.3h0M702.8 1498h0M779.2 1502.3h0M722.5 1501.3h0M773.9 1493.7h0M751.2 1495.4h0M721.3 1494.2h0M717.7 1495.3h0M703.3 1496.2h0M707.5 1502.6h0M752.2 1489.1h0M767.3 1492.4h0M741.8 1499h0M729 1494.2h0M737.8 1491.5h0M775.1 1491h0M771.6 1492.9h0M726.4 1496h0M702.9 1491.3h0M731.4 1497h0M776.3 1506.8h0M703.8 1498.6h0M711.3 1503.5h0M728.1 1505.1h0M747.5 1491.3h0M700.4 1493.5h0M775.5 1491.7h0M741.7 1495.7h0M730 1503.4h0M718.6 1501.9h0M758 1505.8h0M833.4 1505.6h0M828 1499.3h0M840.2 1504.1h0M859 1491.1h0M807.3 1498.6h0M853.2 1498.6h0M818.4 1506.3h0M818.3 1490.6h0M801.5 1489.5h0M847.4 1490.9h0M846.7 1504.6h0M866 1503.6h0M826.9 1500.2h0M854.7 1501.9h0M817.7 1502.7h0M805.4 1494.6h0M865.7 1497.5h0M816.2 1503.1h0M828.6 1489.1h0M800 1493.7h0M820.6 1505.9h0M814.8 1504.3h0M856 1496.5h0M865.5 1502.7h0M830.9 1493.7h0M829.4 1505.2h0M834.5 1492.5h0M823.5 1497.6h0M811 1499.3h0M800.3 1503.8h0M885.2 1490.9h0M904.1 1494.5h0M917.7 1497.9h0M901 1504h0M886.9 1502.4h0M906.9 1496.7h0M921.1 1489.4h0M916.7 1491.6h0M915.6 1491.8h0M879.5 1498h0M708.2 1473.6h0M644 1478.5h0M608.6 1477.4h0M574.4 1476.3h0M683.9 1474.8h0M605.2 1470.7h0M675.3 1476h0M706.5 1480.4h0M587.7 1482.8h0M709.1 1481.4h0M694.4 1479.5h0M678.2 1479.3h0M659.2 1473.6h0M592.5 1480.2h0M660.1 1470.8h0M666.7 1478.5h0M647.7 1480.9h0M700.9 1475.3h0M691.9 1477h0M656.5 1475.8h0M709.2 1476.2h0M712.1 1474.7h0M671.2 1482.8h0M672.8 1475.3h0M584.3 1476.7h0M770.6 1481.4h0M781 1483.8h0M771.5 1475.7h0M774.8 1480.5h0M761.2 1473h0M763.1 1474.5h0M767.4 1483.6h0M764.8 1483.1h0M767.2 1472.9h0M786.3 1471.2h0M823.5 1471.8h0M822.5 1475.4h0M825.7 1472.2h0M821.3 1479.8h0M822.1 1473.2h0M932.4 1482.4h0M935.1 1479.9h0M936.3 1481.2h0M940.7 1472.2h0M917.6 1478.7h0M661.3 1460.3h0M686.3 1454.8h0M679.1 1458.8h0M652.1 1455.9h0M638.7 1461.3h0M664.6 1466.5h0M638.6 1463.5h0M621.2 1462.4h0M627.3 1465.7h0M703.7 1456.1h0M688.8 1455.5h0M641 1453.7h0M653.9 1453.7h0M678.9 1461.2h0M651.9 1463.4h0M843 1457.3h0M846.9 1452h0M862.6 1453.4h0M839 1464.8h0M860.6 1459.2h0M848.6 1454.2h0M596.1 1441.3h0M608.2 1436.1h0M641.3 1434.3h0M614.1 1444.5h0M633.3 1435.5h0M633.1 1441.9h0M627.5 1447.2h0M635.9 1442.4h0M634.5 1440.9h0M623.6 1445.4h0M766.2 1439.3h0M755.4 1445.1h0M761.1 1440h0M760.2 1441.8h0M762.2 1445.7h0M853.7 1441.8h0M857.1 1440.2h0M852.7 1444.5h0M856 1444.4h0M950.9 1444.7h0M923.1 1440.3h0M897 1443.2h0M918.4 1448.8h0M880.5 1442.2h0M938.4 1443.5h0M947.4 1439.9h0M941 1443.2h0M924.1 1438.7h0M910.4 1447.6h0M938 1444.8h0M912.1 1438.5h0M935 1443.4h0M937.1 1445.3h0M910.4 1448.5h0M888 1449.5h0M884.1 1449.6h0M925.7 1443.4h0M954.7 1444.1h0M919.2 1438.7h0M943.2 1445.7h0M896.9 1439.4h0M911.9 1449.2h0M949.3 1443.6h0M880 1447.9h0M613.5 1429.2h0M633.5 1433.3h0M609.9 1430.3h0M648.3 1416.3h0M637.9 1421.3h0M775.1 1433.3h0M773 1424.9h0M768.3 1420.5h0M758.1 1418.1h0M777 1417.2h0M762.5 1419.2h0M765.2 1417h0M725.1 1427.2h0M913.5 1432h0M912 1433.9h0M893.9 1427.3h0M910.6 1419.2h0M893.8 1420.3h0M906.8 1430.2h0M748.9 1414.4h0M641.2 1416.4h0M715.1 1409.2h0M733.1 1410.2h0M680.5 1412.9h0M755.7 1408.4h0M988.7 1440.5h0M1013.8 1451.5h0M969.1 1449.7h0M991 1440.1h0M970.3 1446.2h0M1028.7 1447.4h0M940.1 1450.8h0M1003.8 1444h0M966.5 1444.4h0M1016.1 1441.2h0M955.2 1452.7h0M988.6 1437.3h0M1038 1438.1h0M980.1 1447.8h0M1013.1 1453.1h0M959.4 1446.8h0M1036.7 1444.9h0M1018.6 1444.9h0M1018.8 1492.2h0M977.4 1487.7h0M977.9 1490.8h0M1024 1490.2h0M1036.1 1484.9h0M1044.6 1476.1h0M1003.1 1474.5h0M1004.1 1486.7h0M971.4 1489.2h0M985.9 1476.9h0M961.3 1484.6h0M982.3 1473.9h0M973.6 1492.5h0M992 1486.7h0M986.9 1474.4h0M1007.3 1477.2h0M953.4 1485.3h0M1014.3 1473.2h0M1044.1 1473.4h0M958.3 1479.6h0M1027.7 1487.9h0M1021.8 1481.6h0M1028 1504.5h0M1031.9 1503.6h0M967.3 1511.3h0M1016.6 1510.4h0M974.9 1512.5h0M996.2 1505.3h0M962.7 1513.9h0M959.5 1505.4h0M983.5 1512.8h0M1021.5 1512.3h0M1005.5 1503.1h0M1014 1505.1h0M1030.8 1513.7h0M960.3 1511h0M974.3 1504.1h0M1025 1507.9h0M978.6 1509.2h0M960.2 1507.7h0M1077.6 1425.8h0M1066.6 1426.3h0M1066.2 1415.3h0M1071 1414.7h0M1065.9 1422.5h0M1072.4 1415h0M1110.4 1430.9h0M1114.4 1450.2h0M1109.2 1437.7h0M1107.6 1436.4h0M1107.9 1432.1h0M1105.1 1443.9h0M1109.5 1429.6h0M1101.5 1447.3h0M1106.5 1447.1h0M1112.8 1442.4h0M1106.5 1441.3h0M1108 1439.9h0M1120.7 1430.5h0M1103.1 1448.8h0M1193.4 1413.8h0M1187.4 1401.8h0M1174.7 1402.1h0M1186.3 1406.7h0M1154 1408.8h0M1128.5 1409.6h0M1187.6 1407.6h0M1149.5 1406.2h0M1127.2 1404.8h0M1185.4 1416.4h0M1143.7 1404.9h0M1140.3 1414.7h0M1133.6 1403.1h0M1138.4 1401.5h0M1123.2 1403.9h0M1168.6 1415.8h0M1133.3 1405h0M1162.8 1400.5h0M1118 1409.8h0M1151.8 1406h0M1147.4 1400.3h0M1133.4 1403h0M1131.5 1401.2h0M1183.4 1400.3h0M1147.3 1402.9h0M1128.3 1412.9h0M1196.5 1416.4h0M1139.8 1409.2h0M1376.4 1476.9h0M1374.9 1503h0M1370.6 1511.5h0M1379 1487.4h0M1458.5 1500.9h0M1345.2 1517.3h0M1384.9 1502.5h0M1382.9 1515.1h0M1429.5 1494.7h0M1364.7 1510.8h0M1448.2 1502.5h0M1454.5 1498.9h0M1373.5 1488.5h0M1347.6 1480.5h0M1463.4 1500.1h0M1870.8 1444.9h0M1878.3 1475.9h0M1887.8 1473.5h0M1875.4 1456.2h0M1889.8 1454.2h0M1883.3 1436.6h0M1879.6 1460.3h0M1889 1484h0M1942.7 1492h0M1951.1 1499h0M1895.3 1493.1h0M1928.6 1491.7h0M1906.8 1497.4h0M1904.7 1494.6h0M1891.4 1493.5h0M1957.5 1488h0M1897.5 1498.8h0M1954 1494.1h0M1910.7 1491.6h0M1941.4 1495h0M1921.3 1496.3h0M1896.9 1492.7h0M2029 1510.9h0M1993.7 1509.4h0M2029.6 1506.3h0M1962.9 1501.3h0M2010.4 1504.1h0M1997.4 1500.5h0M2035.3 1503.3h0M2007.1 1507.5h0M1982 1502.5h0M2000.6 1503.9h0M1956.9 1502.1h0M1953.5 1510.8h0M1968.2 1511h0M2005.7 1511.5h0M1992.3 1503.1h0M1957.6 1507.5h0M2012.6 1508.2h0M2031.9 1501.2h0M2008.1 1508.4h0M2034.7 1503h0M2033.8 1500.3h0M2003 1503.9h0M1996.7 1502.1h0M1984.6 1504.2h0M1991.7 1504.9h0M1969.6 1502h0M1992.1 1511.9h0M2026.4 1501.8h0M2007.1 1501.8h0M1979.3 1511.9h0M2057.1 1507.2h0M2074.9 1513h0M2070.9 1517.4h0M2071 1510.4h0M2046.7 1513h0M2089.5 1512h0M2061.2 1509h0M2097.6 1517.9h0M2076.8 1514.5h0M2056 1507.9h0M2034.5 1513.4h0M2103.4 1514.3h0M2083.8 1516.3h0M2063 1511.1h0M2050.8 1516h0M2085.2 1512.3h0M2092.3 1517h0M2033.7 1508.6h0M2067.4 1514.6h0M2049.3 1511.3h0M2083.1 1509.5h0M2083.6 1506.7h0M2063 1513.7h0M2099.1 1512.1h0M2083.2 1514h0M2081.8 1511.4h0M2055.4 1507.5h0M2101 1515.3h0M2082.1 1515h0M2055.2 1508.1h0M2129.8 1518.1h0M2136.3 1523.4h0M2122 1516.9h0M2139.5 1523.5h0M2131.7 1519.7h0M2149.9 1524h0M2102.5 1524.7h0M2105.3 1519.2h0M2128 1524.7h0M2113.1 1512.6h0M2153.7 1517.9h0M2125.7 1517.5h0M2115.5 1512.4h0M2131.2 1514.8h0M2128 1524.9h0M2155.1 1516h0M2118.7 1513.6h0M2134 1514.3h0M2107.1 1523.9h0M2131.3 1523.6h0M1955 1492.1h0M2047.9 1512.7h0M1945.6 1505.1h0M2043.9 1505h0M1980.4 1502.9h0M1928.2 1488.9h0M1915.1 1518.3h0M1963.9 1512h0M1929.4 1520.4h0M1907.3 1517.2h0M2036.1 1521.3h0M2127.8 1485.5h0M959 1524h0M992 1461h0M1069 1469h0M1136 1428h0M1158 1444h0M1169 1449h0M1158 1480h0M1201 1466h0M1210 1471h0M1171 1507h0M1212 1520h0M1403 1386h0M1449 1393.5h0M1446 1437h0M1266 1443h0M1265 1473h0M1260 1493h0M1263 1520h0M1299 1499h0M1319 1494h0M1325 1479h0M1703 1513h0M1723 1449h0M1736.5 1470h0M1813 1472h0M1819 1450h0M1870 1515h0M1928 1456h0M1950 1459h0M1981 1347h0M2010 1462h0M2032 1467h0" stroke="#000080" stroke-width="7.9" stroke-linecap="round" fill="none"/>
<path d="M629 1408h0M946 1361h0M955 1364h0M955 1372h0M1054.5 1343h0M1060 1385h0M1147 1351h0M968.2 1399.2h0M967.7 1412.2h0M976 1408.2h0M1042.5 1408.7h0M1046.6 1407.6h0M996.3 1414.4h0M982 1405.6h0M998.4 1405.4h0M988.7 1414.2h0M1046.3 1408.7h0M1005.3 1414h0M1042.6 1395h0M1037.5 1396.3h0M971.7 1399.3h0M994.8 1404.2h0M1043.2 1397.1h0M1017.7 1404.6h0M974.5 1414.9h0M1040 1401.3h0M1036.2 1403.5h0M1019.9 1413.5h0M1017 1401.6h0M968.4 1403.8h0M1012 1399.7h0M1011.9 1394.3h0M1239.1 1363.2h0M1270.1 1367h0M1236.3 1359.8h0M1303.9 1359.8h0M1225.3 1365.6h0M1252.3 1365h0M1335.8 1371.5h0M1311.8 1371.5h0M1312.1 1361.1h0M1330.9 1357.1h0M1233.2 1363.6h0M1221.7 1365.3h0M1278.6 1358.5h0M1305.4 1356.4h0M1270.9 1359.7h0M1331.6 1357.5h0M1256.4 1367.1h0M1245.9 1369.1h0M1220.3 1356.3h0M1206.7 1364.5h0M1269.7 1364.1h0M1268.7 1369.9h0M1234.2 1357.5h0M1238.5 1369.2h0M1314.5 1356.9h0M1205.1 1371.8h0M1335.8 1359.7h0M1276.8 1355.8h0M1273.7 1357.9h0M1297.1 1357.6h0M1281.2 1360.6h0M1270.1 1371.2h0M1275.7 1371.6h0M1302.3 1358.9h0M1239.1 1368.9h0M1309.9 1357.4h0M1314.3 1360.1h0M1281.6 1370.2h0M1329 1358h0M1224.3 1359.5h0M1304.9 1411.6h0M1309.1 1409.2h0M1324.2 1405.7h0M1284.5 1409.6h0M1306.2 1410.6h0M1339.7 1405.6h0M1281.7 1401.5h0M1303 1403.8h0M1279.1 1406.1h0M1315.8 1408.2h0M1291.9 1407.8h0M1306.9 1411h0M1311.8 1410.2h0M1272.4 1410.2h0M1251.5 1409.8h0M1252.3 1407.3h0M1275.4 1402h0M1317.1 1401.6h0M1311.6 1401h0M1269.5 1404.7h0M1301.8 1407.9h0M1283 1410.4h0M1253.5 1402.3h0M1286 1407.3h0M1309.2 1410.6h0M1279 1432.5h0M1291.5 1423.9h0M1279.6 1429h0M1288.2 1430.5h0M1271.1 1424.7h0M1278.1 1422.6h0M1294.5 1437.1h0M1293.1 1425h0M1420.5 1355.5h0M1368.9 1359.3h0M1421.9 1364.9h0M1414.2 1357.7h0M1408.8 1367.7h0M1459.6 1361.3h0M1401.5 1369.8h0M1346.2 1365.3h0M1354 1368.7h0M1432.6 1356.2h0M1346 1371h0M1382 1364.9h0M1419.5 1361.5h0M1353.6 1367.3h0M1385.9 1362.3h0M1449.8 1371h0M1379.2 1360.7h0M1446.2 1362.7h0M1462.3 1361.3h0M1347.4 1359.8h0M1463.1 1364.8h0M1473.5 1369h0M1433.2 1358h0M1396.9 1355.3h0M1385.8 1358.7h0M1468.4 1357.6h0M1387.3 1355.4h0M1361 1366.8h0M1395.3 1363.6h0M1452.4 1366.8h0M1369.1 1367.7h0M1433.7 1365h0M1408.7 1370.6h0M1422.2 1356h0M1455 1366.2h0M1376.5 1368.1h0M1467.6 1367.5h0M1405.3 1369.1h0M1351.1 1355.9h0M1395.4 1363.8h0M1428.1 1366.2h0M1411 1361.3h0M1440.5 1364.5h0M1368.5 1364.8h0M1402.8 1368.5h0M1436.2 1371.7h0M1444.7 1363.7h0M1431.8 1360h0M1415.8 1371.8h0M1356.5 1362.2h0M1399 1367.1h0M1366 1366.6h0M1355.4 1371.4h0M1351.1 1366h0M1442.6 1364.4h0M1376.9 1414h0M1462.3 1416.5h0M1417 1428.9h0M1406.3 1425.3h0M1422.1 1425.7h0M1425.4 1408.4h0M1371.1 1411.9h0M1370.3 1419.8h0M1397.3 1414.1h0M1342.8 1429.7h0M1406.5 1410.2h0M1430.8 1407.3h0M1360 1428.6h0M1431.4 1414h0M1358.3 1423.2h0M1373.1 1413.2h0M1378.4 1420.7h0M1373.4 1406.4h0M1456.2 1418.2h0M1357.3 1406.6h0M1464.9 1417.7h0M1415.3 1427.5h0M1343.2 1407.7h0M1368.4 1422.5h0M1355.5 1419.1h0M1448.7 1415h0M1431.2 1406.1h0M1406.1 1414.4h0M1432.5 1414.8h0M1430.6 1427.5h0M1467.7 1425.3h0M1436.7 1429.1h0M1398.9 1405.5h0M1450.2 1414h0M1385.9 1428.7h0M1394.8 1408.3h0M1464 1405.1h0M1347.1 1422.5h0M1363.6 1423h0M1340.4 1412.3h0M1394.2 1420.7h0M1442 1421.9h0M1366.6 1426.3h0M1347.4 1416h0M1346.9 1424.2h0M1404.7 1416h0M1468.2 1411.1h0M1429.6 1422.4h0M1349.7 1424.3h0M1386.7 1423.3h0M1443.2 1413.4h0M1394.1 1415.3h0M1353.7 1419.2h0M1439.4 1429h0M1400.9 1418.7h0M1464 1257h0M1464 1270h0M1732 1414.2h0M1734.1 1417.3h0M1749.4 1417.4h0M1715 1410.8h0M1691.4 1410.2h0M1721.1 1407.7h0M1757.2 1416.1h0M1747.5 1406.8h0M1726.9 1415.7h0M1710.6 1411.4h0M1693.5 1417.1h0M1726.2 1409.2h0M1750.9 1406.3h0M1722.7 1408.6h0M1754.2 1410h0M1758.3 1415.1h0M1686.6 1411.4h0M1719.2 1404.4h0M1752.4 1415.1h0M1760.5 1409.8h0M1689.4 1412.5h0M1749.1 1406.3h0M1742.3 1409.7h0M1710.2 1417.7h0M1737.1 1417.5h0M1743.6 1415.3h0M1695.2 1413.9h0M1685.5 1414.3h0M1736.2 1408.4h0M1727.1 1417.4h0M1735.8 1395.1h0M1759.9 1419.9h0M1703 1401.3h0M1706.6 1402.6h0M1749.1 1399.4h0M1758.1 1395.7h0M1707.5 1395h0M1744.8 1385.6h0M1690.5 1421.3h0M1741 1387.8h0M1713.4 1383h0M1749.7 1424.7h0M1766.8 1409.9h0M1786.7 1413.7h0M1777.7 1413h0M1791.3 1405.5h0M1815.7 1410.1h0M1796.9 1409.9h0M1839.8 1407.5h0M1768 1403.6h0M1784.1 1413.9h0M1803.3 1411.8h0M1803.1 1399.9h0M1781.3 1408.6h0M1772.7 1404h0M1813.9 1413.1h0M1843.1 1396.3h0M1875 1353.6h0M1891.3 1347.1h0M1888.1 1350.8h0M1884.6 1352.3h0M1867.7 1362.1h0M1893.7 1435.2h0M1875.5 1434.3h0M1874.6 1435.5h0M1865.7 1438.5h0M1878.4 1434.5h0M1871.2 1434h0M1879.5 1435.5h0M1891.9 1434.9h0" stroke="#40E0D0" stroke-width="7.9" stroke-linecap="round" fill="none"/>
<path d="M1053 1336h0M1102 1319h0M1113 1348h0M1137 1354h0M1201 1350h0M1264 1314.5h0M1329 1390.5h0M1257 1383h0M1092.6 1361.4h0M1176.5 1361.2h0M1081.9 1359.2h0M1148.4 1365.6h0M1182.7 1366.4h0M1199.5 1363.3h0M1120.6 1377.1h0M1203.8 1378h0M1171.6 1369.7h0M1128.4 1381.1h0M1112.9 1367.7h0M1172.6 1371.2h0M1210.2 1365.6h0M1196.5 1376.4h0M1079.3 1380.8h0M1174.9 1381.2h0M1145.2 1379.9h0M1147.1 1380.4h0M1192.2 1362.1h0M1206.3 1361.2h0M1142.5 1365.9h0M1130.9 1364.4h0M1107.8 1376.2h0M1123.8 1370.4h0M1081.4 1361.2h0M1173.4 1367.6h0M1152.5 1380.7h0M1071.2 1363.7h0M1199.5 1374.9h0M1192.6 1361h0M1129 1379.2h0M1220.7 1375.5h0M1220.7 1365.9h0M1169.4 1381.3h0M1083.7 1372.9h0M1109.5 1370.6h0M1205.6 1368.4h0M1076.6 1370.3h0M1155.7 1364.2h0M1192.7 1364.7h0M1137.2 1371.5h0M1060.6 1380.4h0M1162.3 1364.3h0M1211.4 1376.9h0M1157.3 1370h0M1173.4 1362.8h0M1133.6 1357.6h0M1065.3 1372.6h0M1145.9 1379h0M1164.5 1376.2h0M1170 1367.3h0M1179.9 1361.6h0M1220.9 1373h0M1130.4 1374.6h0M1131.1 1364.8h0M1163.3 1382.1h0M1156.1 1380.1h0M1122.5 1381.9h0M1213.7 1376.7h0M1070.5 1380.6h0M1152 1369h0M1194.8 1372.1h0M1197.3 1371.7h0M1085.7 1381.4h0M1093.4 1370.4h0M1094.5 1358.8h0M1140.2 1367.6h0M1074.1 1378.7h0M1151.6 1372.6h0M1082.3 1366h0M1181.9 1372.9h0M1122.8 1365.8h0M1209.7 1369.5h0M1091.7 1374.5h0M1164.7 1375.4h0M1101.8 1368.9h0M1114.9 1358.1h0M1137.4 1373.7h0M1141 1380.5h0M1107.4 1375h0M1064.8 1398.3h0M1056.9 1400.7h0M1057.2 1391.3h0M1062.1 1393.9h0M1059 1392.5h0M1064.7 1391.4h0M1058.8 1400.9h0M1056.5 1398h0M1062.6 1394.6h0M1062.5 1392.6h0M1221.4 1387.3h0M1217.7 1378.4h0M1207.8 1379.8h0M1225.4 1378.2h0M1219.7 1388.4h0M1224.1 1380.5h0M1222.7 1379.3h0M1210.7 1386.2h0M1210.9 1380.5h0M1215.5 1382.3h0M1221.8 1387h0M1201.2 1387h0M1204.7 1380.3h0M1225.7 1388.4h0M1214.5 1387.8h0M1215 1380.8h0M1212.8 1385.3h0M1202 1381.6h0M1219.6 1385.1h0M1200.9 1379.5h0M1712.5 1363h0M1710.7 1386.9h0M1699.5 1368.6h0M1701.3 1363h0M1697.6 1396.6h0M1703.5 1390.7h0M1709.1 1366.2h0M1708.2 1389.6h0M1695.6 1371.9h0M1701.4 1379.7h0M1704.6 1375.9h0M1711 1396.2h0M1703 1392.6h0M1698.5 1393.5h0M1694.9 1386.2h0M1802 1323h0M1872 1319h0M1867 1358h0M1813 1390.5h0M1685 1394.5h0M1690 1414h0" stroke="#00EE00" stroke-width="7.9" stroke-linecap="round" fill="none"/>
<path d="M1055 1267h0M1101.5 1322h0M1141 1338h0M1169.5 1321h0M1201 1356h0M1340 1192.8h0M1330.1 1192.6h0M1335.5 1190.9h0M1334.8 1192.7h0M1353.7 1193.5h0M1343.7 1191.9h0M1333 1219.4h0M1310.3 1222.9h0M1307.4 1218.3h0M1288.6 1218.2h0M1334.7 1218.3h0M1341.6 1220.7h0M1320.4 1220.2h0M1336.7 1222.4h0M1330.1 1221.3h0M1303.6 1221.3h0M1315.6 1221.1h0M1351.9 1221.3h0M1300.5 1212h0M1329 1233h0M1304 1255h0M1457.1 1237.5h0M1415.3 1245.4h0M1395.4 1243.4h0M1447.3 1232.8h0M1388.1 1245.4h0M1466.7 1237.1h0M1389.2 1232.2h0M1429.9 1232.6h0M1375 1241h0M1464.8 1229.5h0M1469.8 1228.7h0M1391.1 1230.7h0M1419.3 1234h0M1421.4 1232.4h0M1424.4 1242.2h0M1408.5 1232.2h0M1445.5 1242.2h0M1449.7 1247.9h0M1407.1 1239.8h0M1432.2 1236.3h0M1417.7 1236.7h0M1411.5 1236.8h0M1454.1 1240.6h0M1465.7 1246h0M1402.9 1232.9h0M1425.8 1246.2h0M1383.5 1235.5h0M1422.3 1229.9h0M1462.8 1230h0M1403.8 1229.1h0M1391.6 1219.6h0M1438.2 1222.7h0M1409.3 1229.4h0M1450.5 1227h0M1462.9 1222.5h0M1460.6 1229.5h0M1430.5 1221.6h0M1418.2 1228.9h0M1417.3 1253.9h0M1406.1 1257.4h0M1417.5 1253h0M1411 1189h0M1464 1177h0M1464 1203.5h0M1446 1276h0M1397 1258h0M1412 1258h0M1720.4 1221.9h0M1744.7 1231.3h0M1757.7 1225.7h0M1739.7 1219.4h0M1699.2 1226.4h0M1725.4 1227.1h0M1727.4 1228h0M1735.3 1219.7h0M1746.4 1219.7h0M1682.1 1228.6h0M1681.2 1230.9h0M1711.9 1227.7h0M1754.9 1229.5h0M1744 1222.4h0M1715.6 1225.2h0M1699.1 1226.1h0M1710.5 1225h0M1682.6 1227.1h0M1711.6 1222.9h0M1751.2 1230h0M1700.1 1232.9h0M1746.5 1220h0M1687.7 1220.2h0M1756 1230.6h0M1726.2 1229.2h0M1760.8 1227.2h0M1684 1222.3h0M1701.1 1228.8h0M1703.4 1229.2h0M1685.2 1231.1h0M1691.7 1221.7h0M1743.2 1219.2h0M1689.6 1228.6h0M1751 1219h0M1692.4 1228.8h0M1786 1223h0M1823.6 1228.5h0M1824.5 1219.7h0M1837.7 1215.5h0M1846.9 1218h0M1840.6 1229.3h0M1844.8 1225.3h0M1815.9 1222h0M1819.3 1227.1h0M1877 1205h0" stroke="#FFA500" stroke-width="7.9" stroke-linecap="round" fill="none"/>
<path d="M1080.1 1186.7h0M1091.7 1188.5h0M1094.5 1189.1h0M1094.7 1188.1h0M1086.9 1189.4h0M1086 1202h0M1059.2 1219.1h0M1060.2 1221.7h0M1061.1 1219.9h0M1109 1177h0M1116 1186h0M1126.3 1186.9h0M1128.5 1179.5h0M1142.2 1186.2h0M1129.6 1187.2h0M1141 1182.9h0M1148.8 1185.6h0M1123.2 1177.4h0M1142.3 1184.9h0M1124.2 1188.3h0M1124.7 1178.9h0M1129.5 1185.1h0M1141.6 1189.1h0M1128.9 1177.5h0M1126.6 1179.3h0M1146.4 1182.3h0M1169.4 1187.2h0M1181.5 1179.1h0M1168.5 1181.2h0M1164.9 1195.2h0M1161.6 1184h0M1180.9 1195.4h0M1176.4 1184.9h0M1171.4 1190.6h0M1184 1195.3h0M1174.3 1195.9h0M1169.6 1186.5h0M1180.3 1194.3h0M1179.4 1188.9h0M1160.3 1187.5h0M1178.1 1186.5h0M1174 1193.3h0M1165.5 1187.5h0M1180.8 1196.4h0M1181.5 1177.3h0M1174.5 1190.9h0M1179.8 1194.6h0M1171 1185.3h0M1161.4 1193.7h0M1177.7 1194.2h0M1168 1182.2h0M1168 1210h0M1177 1210h0M1177 1203h0M1189 1182h0M1196 1172h0M1196 1176h0M1231.4 1140.4h0M1228.9 1131h0M1233.9 1135.9h0M1237.2 1138h0M1247.8 1133h0M1245.9 1144.8h0M1239.5 1138.2h0M1231.1 1144.5h0M1235.1 1143.7h0M1238.7 1132.7h0M1235.2 1136.1h0M1233.1 1132.7h0M1234.2 1135.2h0M1229.3 1142.3h0M1226.5 1150.7h0M1225 1147h0M1231.7 1145.6h0M1228.9 1147.1h0M1228.4 1155h0M1274.3 1222.1h0M1273.7 1222.8h0M1273 1220.8h0M1301 1218h0M1301 1223h0M1301 1228h0M1464 1211h0" stroke="#FF0000" stroke-width="7.9" stroke-linecap="round" fill="none"/>
<path d="M680.2 1975.2h0M744.3 1974.7h0M736 1974.5h0M678 1975.2h0M764 1974.4h0M782.7 1974.8h0M657.9 1975.3h0M739.2 1975.2h0M707.4 1972.6h0M683.1 1974.4h0M655.2 1972.6h0M779.5 1973.4h0M734.9 1973.2h0M666.1 1974.9h0M671.5 1974.2h0M703.6 1973.5h0M762 1975.4h0M726.7 1973.5h0M645.5 1974.8h0M775.6 1975.4h0M644.1 1974.7h0M657.2 1973.4h0M752.5 1974.8h0M665.1 1974.3h0M719.3 1973.4h0M775.3 1974.8h0M648.6 1972.7h0M726.2 1973.5h0M724 1974.8h0M711.7 1974.5h0M776.7 1974.7h0M702.1 1974.6h0M785.5 1974h0M754.7 1974.1h0M647.8 1974.7h0M657.2 1975.2h0M762.6 1974.5h0M781.3 1972.6h0M754.5 1975.3h0M677.9 1973.7h0M724 1969.8h0M721.3 1969.2h0M756.9 1969.4h0M770.5 1971.8h0M767.4 1971.1h0M726 1968.1h0M766.6 1971.8h0M739.9 1971h0M759.4 1971.3h0M745.8 1966.5h0M779.9 1968.9h0M765.5 1968.9h0M777.5 1966.9h0M724.2 1971h0M763.6 1964.5h0M847.6 1971.2h0M823.1 1965.2h0M834.7 1970h0M841 1967.8h0M837.4 1971.6h0M832.2 1966.2h0M798.7 1964.6h0M822.8 1971.5h0M796.6 1968.1h0M841.1 1965.8h0M816.1 1969.7h0M812.6 1962.1h0M809.7 1962.5h0M846.3 1966.2h0M640.6 1951.7h0M601.9 1958.3h0M584.6 1955.1h0M607 1950.2h0M599.5 1961.7h0M608.5 1950.9h0M626.4 1954h0M609.7 1960.4h0M588.6 1951.3h0M602.6 1956.1h0M612.5 1955.2h0M641.6 1959.4h0M633.8 1958.9h0M603 1956h0M706.6 1954.7h0M721.3 1953.9h0M705.3 1951.5h0M696.7 1954.9h0M726.7 1953h0M716 1956.1h0M687.5 1950.4h0M701.9 1958.1h0M692.7 1951.7h0M697.2 1955.3h0M690.1 1959.3h0M706.7 1960.2h0M723.1 1961.6h0M691.6 1960.5h0M831.3 1955.6h0M849.7 1950.2h0M822.7 1959.7h0M806.2 1959.4h0M836.2 1950.1h0M809.1 1953.7h0M842.8 1961h0M847.7 1950.4h0M840.3 1956.3h0M830.8 1954.1h0M852.8 1957.7h0M860 1952.2h0M825.4 1951.8h0M818 1951.9h0M842.4 1953.9h0M850.9 1957.7h0M590.5 1936.8h0M658 1941.7h0M578 1944.4h0M618.1 1944.3h0M635.3 1941.2h0M607.2 1934.1h0M649.7 1937.2h0M620.5 1940.1h0M665.1 1933.7h0M652.7 1943.8h0M586.3 1933.5h0M664.3 1944.5h0M637.3 1942.3h0M579.1 1938.4h0M670 1933.8h0M616.7 1933.8h0M612.8 1932h0M655.8 1934.5h0M670.8 1934.6h0M625.9 1936.3h0M806.1 1933.2h0M788 1944.9h0M822.8 1934h0M843.8 1935.6h0M822.8 1937h0M799.8 1937.4h0M791.7 1937.7h0M789.3 1937.3h0M793.9 1942.4h0M802.2 1933.1h0M837.7 1943.8h0M813.5 1932.8h0M906.3 1944.8h0M915.4 1932.5h0M886.2 1944.5h0M907.9 1938.6h0M912.7 1939.4h0M917.4 1937.3h0M874.4 1937.1h0M898.3 1942.3h0M898.9 1944.7h0M883.8 1939.3h0M941.6 1940.7h0M874.1 1937.7h0M938.8 1934.5h0M891.9 1943.3h0M930 1935.6h0M657.8 1922.1h0M675.5 1914.5h0M600.1 1927.5h0M673.7 1921.2h0M655.5 1914.3h0M628.4 1917.2h0M612.6 1922.1h0M674.1 1915.1h0M660.6 1916.4h0M653.3 1923.2h0M634.3 1914.6h0M631.9 1927.8h0M804.5 1925.5h0M855.2 1919.6h0M796.9 1918.8h0M842.4 1922.8h0M835.9 1916.4h0M817.6 1925.3h0M840.3 1919.8h0M813.3 1914.6h0M804.9 1922.1h0M814.1 1917.2h0M857.4 1920.7h0M807.4 1919.2h0M923.3 1919.4h0M886.1 1920.4h0M911.7 1921.1h0M894.5 1922h0M899.4 1918.7h0M890.4 1917.1h0M892 1925.5h0M899.6 1924.8h0M707.1 1912h0M778.5 1908.3h0M881.1 1910.5h0M938.7 1906h0M808.9 1910.3h0M747.1 1911.1h0M911.6 1907.6h0M747.5 1906.6h0M860.4 1905.7h0M884.4 1904h0M927.5 1866.1h0M935.8 1864.5h0M938.9 1866.8h0M940.4 1859.8h0M836 1891h0M907 1965.8h0M898.9 1972.6h0M926.6 1963.8h0M916.9 1963.1h0M958.6 1962.4h0M873.5 1961h0M877.1 1963.5h0M863.3 1967.8h0M880.7 1973.4h0M912.1 1962h0M899.5 1973.6h0M955.7 1968.2h0M947.1 1970.2h0M948.8 1974.7h0M913 1962.1h0M890.7 1964.1h0M933.6 1970.9h0M936 1965.2h0M893.2 1968.3h0M923.1 1961.1h0M964.8 1862.2h0M944.7 1846.5h0M953 1857h0M965.4 1853.5h0M947.9 1861.3h0M1031.4 1894.9h0M1043.4 1902.8h0M1011.4 1899h0M990 1909.3h0M1023.3 1901.7h0M960.9 1908.6h0M1034.8 1909.3h0M956.1 1905h0M1049.8 1901.5h0M1040.6 1903.7h0M1015.3 1901.5h0M992.8 1906.8h0M1009.3 1907.1h0M964.8 1895.9h0M1038.4 1894.7h0M1066.1 1918.5h0M1080.4 1912.7h0M1068.3 1920.4h0M1083.5 1917h0M1065.9 1918.5h0M1067.2 1917h0M1204.2 1920h0M1114.5 1916.3h0M1155.3 1917.4h0M1187.9 1925.9h0M1164.4 1927.7h0M1163.2 1919.7h0M1174.6 1925.5h0M1187.7 1928.9h0M1125.3 1917.9h0M1140 1916.5h0M1156.3 1926.1h0M1187.8 1916.5h0M1201.3 1921.1h0M1199.8 1920h0M1140.8 1919.8h0M1148.4 1916.1h0M1121.2 1923.2h0M1180.6 1919.5h0M1209.8 1919.9h0M1133.1 1929.8h0M1181.8 1919.6h0M1198.6 1916.6h0M1110.4 1917.8h0M1148.5 1925.9h0M1168.2 1922.3h0M1190.1 1925h0M1115.8 1925.4h0M1114.5 1925.1h0M1154.6 1923.4h0M1165 1923.5h0M1103 1939.7h0M1105.4 1935.3h0M1113.1 1946.2h0M1116.5 1937.9h0M1112.5 1944.9h0M1111.4 1937.4h0M1112.4 1935.6h0M1111.7 1942.9h0M1103.2 1944.4h0M1119 1943.7h0M945.5 1949.3h0M993.8 1945.8h0M1011 1973.6h0M963 1965.3h0M1012.5 1961h0M1042 1965.2h0M975.9 1970.1h0M983 1950.6h0M1023.7 1972.3h0M1041.5 1969.5h0M974.6 1945.8h0M953.8 1965.2h0M996.6 1955.2h0M997.8 1950.5h0M1010.8 1959.5h0M1037.5 1963.8h0M1005.2 1957.9h0M966.6 1951.8h0M970.3 1941h0M972 1971.1h0M972.7 1950.3h0M955 1945.7h0M1005.5 1942.7h0M948.4 1966.1h0M999.2 1958.4h0M974.2 1949h0M959.2 1942.5h0M1008.3 1951.2h0M975.9 1974.2h0M965.8 1944h0M1023.9 1969.3h0M958.1 1942.5h0M954.5 1939.9h0M967 1958.2h0M1026.8 1971.2h0M943.2 1950.2h0M978.2 1960.1h0M1030.3 1959.8h0M997.7 1951.1h0M1022.4 1941.5h0M1135 1941h0M1158 1941h0M1167 1955h0M1171 1957h0M1211 1956h0M1265 1862h0M1262 1957h0M1266 1961h0M1325 1886h0M1318 1925h0M1324 1963h0M1376 1860h0M1819 1820h0M1869 1724h0M2049 1925h0M2087 1919h0M1929 1941h0M1981 1941h0M2005 1938.5h0M2063 1939.5h0M2127 1933.5h0M1416.4 1940.8h0M1311.9 1894h0M1333.7 1957.5h0M1404.1 1898.8h0M1466.1 1910.1h0M1308.4 1958h0M1477.3 1909h0M1442.3 1956.2h0M1479.6 1964.7h0M1310.2 1914.8h0M1342.6 1901.5h0M1481 1938h0M1873.6 1917.8h0M1868.4 1959.2h0M1895.5 1918.2h0M1873.9 1927.9h0M1871.7 1949h0M1882.6 1944.7h0M1902.9 1920.9h0M1871.7 1935h0M2071.1 1955h0M2052.5 1955.2h0M2024.3 1950.7h0M2035.9 1957.5h0M1907.7 1959.5h0M2150.5 1952.4h0M1964.4 1958.4h0M2144.7 1959.8h0M2021.3 1955.2h0M2035.2 1957.4h0M1938.7 1962h0M2110.5 1953.6h0M2084 1963.7h0M2069.7 1957.9h0M2084.6 1953.3h0M1968.7 1952.6h0M2028.2 1959.6h0M2072.6 1951.8h0M2039.4 1959.9h0M1999.2 1957.6h0M2148.8 1958.5h0M1913.3 1950.9h0M1904.7 1954.2h0M2050.5 1959.4h0M2132.7 1956.3h0M2013.9 1963.4h0M2036.6 1954.5h0M1982.6 1955.6h0M2075.1 1961.1h0M1951.1 1959.5h0M2146 1954.9h0M1960.7 1952.5h0M1963.6 1951.4h0M2067.2 1961.2h0M1939.3 1956.3h0M2147.9 1957.7h0M1911.4 1963.6h0M2068.2 1959.3h0M1914.7 1952.4h0M1938.7 1952.5h0M1963.1 1961.6h0M2007.2 1961.4h0M2042.2 1958.9h0M1952 1963.9h0M2124.5 1957h0M1961.1 1960.2h0M2041 1956.1h0M2041.7 1961.5h0M1952.9 1962.3h0M2077.5 1962.8h0M1955 1950.9h0M2036.7 1951.6h0M1914.5 1962.9h0M2078.9 1963.4h0M2121 1960.4h0M1939.8 1962h0M2012.5 1955.8h0M2065.5 1955.9h0M2049.8 1956.5h0M2122.4 1955.4h0M2007.3 1957.1h0M2021.2 1955.7h0M1944.1 1952.9h0M1959 1962.8h0M2111.1 1951.8h0M1984.8 1950.3h0M2141.6 1963.9h0M1993.1 1960.7h0M1990.8 1957.8h0M2145.6 1961.2h0M2087.5 1952.8h0M1964 1951.8h0M1924.5 1952.9h0M2004.9 1955.1h0M2051.2 1951.8h0M1934.3 1962.9h0M1919.7 1953.4h0M2071 1962.1h0M2116.5 1954.1h0M2103 1956.7h0M2124.8 1957h0M1932.5 1968.6h0M2085.9 1957.6h0M1981.8 1952.3h0M1934.7 1960h0M1921.2 1952.1h0M1919.5 1965.2h0M1958.7 1963.2h0M2092.1 1954.9h0M2080.9 1957.2h0M2025 1951.8h0M1984.2 1955.4h0M2032.8 1971.1h0M2147.1 1963h0M1955.1 1954.8h0M2097.9 1944.6h0M2105.4 1969.7h0M2113.2 1943.5h0M1928.4 1947h0M2118.9 1968.6h0M2019.5 1947.4h0M2137.6 1963h0M2148.1 1950.4h0M2074.2 1957.5h0M2027.4 1957.6h0" stroke="#000080" stroke-width="7.9" stroke-linecap="round" fill="none"/>
<path d="M1005.7 1823h0M1005.9 1819.4h0M1047.4 1823.3h0M984.7 1823.3h0M999.2 1820.9h0M1046.2 1827.7h0M963 1814.5h0M993.2 1815.1h0M1031.2 1827.7h0M1024.7 1810h0M1047.4 1811.3h0M965 1805.5h0M1040.6 1811.1h0M1032.5 1809.1h0M1019.1 1809.8h0M985 1818.8h0M972 1808.8h0M990.1 1814.8h0M975.7 1811.9h0M985.8 1812.8h0M1046.8 1807.3h0M973.9 1818.5h0M965.7 1814.2h0M1012 1822h0M1034.7 1817.3h0M946 1834h0M955 1841h0M951 1885h0M1146 1902h0M1059.5 1931h0M1186 1797h0M629 1911h0M1309 1784h0M1326.2 1749.3h0M1328.4 1757.4h0M1306.1 1758.9h0M1296.8 1738h0M1267.5 1752.5h0M1271 1758.6h0M1280.8 1739.8h0M1269.5 1737.3h0M1335.5 1759.4h0M1310.1 1746.9h0M1283.1 1743.3h0M1267 1764.8h0M1315.9 1765.8h0M1328.9 1761.5h0M1270.6 1758.3h0M1294.3 1752.2h0M1286 1756.2h0M1305.1 1745h0M1319.2 1749.3h0M1275.9 1740.6h0M1331.4 1918.5h0M1319 1909.9h0M1262.2 1913.8h0M1266.8 1904.6h0M1316.5 1915.4h0M1337.3 1910h0M1229 1900.6h0M1242.1 1926.7h0M1291.2 1923.9h0M1273.3 1921.4h0M1207.9 1925.4h0M1240.5 1905.8h0M1332.7 1922.8h0M1217.6 1920.2h0M1257.2 1914.1h0M1327.9 1925.4h0M1231.7 1917.5h0M1284.3 1917.3h0M1222.7 1925.1h0M1294.7 1928.9h0M1278.5 1907.4h0M1288.5 1900.2h0M1320.6 1906.4h0M1213.2 1907.3h0M1217.7 1927.1h0M1255 1926.7h0M1250.1 1911.8h0M1338.5 1915.9h0M1332 1902.8h0M1323.2 1921h0M1254.9 1906.1h0M1279.3 1903.6h0M1220.9 1914.2h0M1332.1 1928.4h0M1282.4 1917.5h0M1399.1 1753.2h0M1373.6 1745.8h0M1435.9 1753.9h0M1420.2 1755.5h0M1411.3 1755.4h0M1353.6 1744.6h0M1458.4 1757.9h0M1356.2 1748.8h0M1396.1 1750.8h0M1371.7 1754.5h0M1473.3 1757.1h0M1352.9 1744.1h0M1475.9 1743.3h0M1373.3 1757.5h0M1361.2 1755.2h0M1350 1746h0M1420 1756.3h0M1343.9 1745.5h0M1453.8 1745.5h0M1347.5 1744.3h0M1457.9 1747h0M1405.3 1750.5h0M1433.7 1747.9h0M1354.1 1753.9h0M1476 1749.2h0M1371.5 1754.2h0M1462.4 1742.9h0M1474.8 1749.7h0M1393.1 1748.1h0M1373.3 1754.1h0M1342.9 1744.9h0M1420.7 1745.5h0M1455.4 1744.1h0M1382.7 1751.8h0M1444.6 1749.2h0M1459.9 1756.8h0M1373.8 1752.2h0M1380.8 1757.5h0M1407.2 1746.8h0M1472.6 1753.9h0M1403.3 1749.5h0M1378.7 1732.2h0M1388 1734.8h0M1370.9 1725.7h0M1356.3 1763.4h0M1408.1 1735.1h0M1344.3 1797.8h0M1341.9 1741.5h0M1416.7 1796.8h0M1390.5 1792.1h0M1414.6 1782.9h0M1346.5 1732.5h0M1470 1689h0M1470 1715h0M1464 1692h0M1464 1710h0M1416 1818h0M1728.8 1755.8h0M1679.2 1751.1h0M1724 1749.1h0M1720 1749.2h0M1701.4 1751.7h0M1681.5 1749.8h0M1749.9 1751.8h0M1714.8 1758.8h0M1759.5 1752h0M1679.3 1758.1h0M1709 1753.5h0M1681.7 1748.3h0M1694.8 1760.6h0M1735.2 1760.1h0M1708.3 1759h0M1679.7 1755.6h0M1713.4 1760.5h0M1760.5 1751.6h0M1696.8 1755.4h0M1715.4 1759.2h0M1691.1 1753.7h0M1680.7 1749.4h0M1709.5 1738h0M1750.2 1773.1h0M1689 1787.4h0M1682.7 1730.6h0M1722.6 1767h0M1716.9 1725.5h0M1715.6 1778.4h0M1736.4 1731.9h0M1730.7 1762.8h0M1720.8 1740.9h0M1818.1 1772.5h0M1801.7 1771.6h0M1825 1762.2h0M1812.7 1769.4h0M1821.5 1768.5h0M1836.7 1774.1h0M1824.2 1768.3h0M1814 1776.4h0M1881.3 1755.7h0M1883.8 1750.8h0M1891.2 1755.8h0M1897.9 1744.4h0M1429.6 1910.1h0M1432.8 1906.7h0M1417.1 1914.9h0M1353.3 1910.8h0M1431.9 1913.4h0M1460.1 1905.4h0M1354.6 1909h0M1429.2 1913.3h0M1404.7 1909.7h0M1467.2 1912.6h0M1465 1905h0M1385.6 1907.7h0M1441.1 1905.7h0M1372.8 1910.5h0M1341 1905.9h0M1368.2 1909.6h0M1342.5 1908.7h0M1477.7 1914.8h0M1388.2 1911.5h0M1395.5 1905.3h0M1405.7 1907.8h0M1378.7 1906.5h0M1440.7 1910.4h0M1426.4 1913h0M1343.5 1914.9h0M1481.1 1914.8h0M1429.2 1908h0M1408.7 1912.4h0M1409.6 1909.1h0M1381.2 1912.2h0M1345.4 1913.5h0M1385.4 1912.9h0M1347.9 1909.2h0M1394.5 1914.9h0M1479.4 1913.3h0M1472.7 1907.5h0M1347.8 1906.9h0M1420.4 1909.5h0M1409.1 1911.5h0M1355.5 1908.8h0M1444.3 1905.9h0M1355.1 1909.5h0M1440.6 1911.1h0M1346.9 1913.3h0M1473.7 1906.6h0M1360.6 1891h0M1446.4 1875.9h0M1442.2 1884.4h0M1469.7 1890.2h0M1402.3 1896.9h0M1388.6 1917.3h0M1402.5 1874.3h0M1341.8 1903.4h0M1442.9 1886.6h0M1356.7 1895.4h0M1373.5 1890.1h0M1382.4 1901.5h0M1432.2 1900.8h0M1387 1918h0M1410 1909.8h0M1464 1853h0M1464 1862h0M1807.9 1905.8h0M1736.6 1909.3h0M1704.8 1904.9h0M1706.5 1907.2h0M1698.2 1903.1h0M1709.5 1908.9h0M1709.1 1902.9h0M1739.8 1904.4h0M1743.6 1907.9h0M1775.6 1904h0M1804.5 1901.1h0M1850.2 1901.6h0M1829.4 1901.3h0M1699 1909h0M1805.1 1902.5h0M1705 1901.8h0M1866.9 1907.7h0M1859 1904.4h0M1829.9 1902.3h0M1853.5 1901.9h0M1759.4 1907h0M1766.2 1904.2h0M1829.2 1901.5h0M1683.7 1902.2h0M1879 1909.3h0M1691.2 1900.8h0M1889.5 1909.7h0M1846 1905.6h0M1719.8 1906.8h0M1760.6 1905.4h0M1688.9 1909.3h0M1810.3 1903.8h0M1769.9 1903.8h0M1893.2 1907.7h0M1698.4 1909.4h0M1731.2 1906.3h0M1899.9 1908.9h0M1842.2 1900.3h0M1894.7 1906h0M1871.2 1905h0M1901.3 1896.3h0M1724.5 1921.1h0M1764.1 1902.5h0M1829 1890.8h0M1891.2 1886.1h0M1731.6 1899.1h0M1722 1917.3h0M1690.5 1890.2h0M1689.3 1923h0M1863.1 1883.4h0" stroke="#40E0D0" stroke-width="7.9" stroke-linecap="round" fill="none"/>
<path d="M1066.9 1679.8h0M1065.7 1687.6h0M1066.4 1680.2h0M1065.8 1685.1h0M1066.5 1701h0M1066 1710h0M1074 1710h0M1067 1724h0M1141 1696h0M1160 1695h0M1176.1 1715.8h0M1116.9 1741.5h0M1096.3 1751.9h0M1104.1 1725.4h0M1117.7 1735.6h0M1147.7 1739.8h0M1113.8 1731h0M1184.9 1718h0M1122 1713.4h0M1141.4 1756.6h0M1218.3 1730.5h0M1132.7 1732.6h0M1201 1721h0M1149.9 1737.8h0M1135.3 1715.5h0M1202.1 1756.2h0M1138.2 1743.3h0M1218.2 1743.5h0M1186 1727h0M1213.3 1727.6h0M1151.6 1742.2h0M1084 1722.9h0M1220.6 1737.3h0M1166.5 1739.8h0M1136 1743.8h0M1170 1729.4h0M1098.5 1730.2h0M1162 1714.8h0M1151.3 1756.7h0M1099.9 1734.5h0M1197.7 1726.8h0M1084.6 1752.8h0M1169.5 1722.1h0M1168.9 1715.3h0M1138 1723.3h0M1178.9 1751.3h0M1176.3 1757.6h0M1187.4 1715.4h0M1216.7 1728.9h0M1188.1 1714.9h0M1221.7 1740.6h0M1173.1 1754h0M1122.7 1732.8h0M1168.7 1753.7h0M1206.7 1716.4h0M1086.3 1752h0M1139 1717.6h0M1159.3 1750.3h0M1108 1712.1h0M1166.5 1735.6h0M1171.2 1726.5h0M1158.7 1739.1h0M1180.2 1723.5h0M1198 1743.4h0M1125.8 1740.7h0M1088.9 1713.7h0M1195.3 1728.7h0M1167.3 1753.8h0M1169.8 1734.5h0M1130.6 1713.1h0M1141.6 1720.2h0M1191 1747h0M1124.4 1728.6h0M1185.2 1716.5h0M1104.1 1753.1h0M1123.8 1738.9h0M1151.7 1721.9h0M1171.3 1723.7h0M1114.4 1733.5h0M1145.2 1713.6h0M1095.2 1733.7h0M1157.8 1725.5h0M1127.6 1729.5h0M1083.9 1757h0M1205 1729.5h0M1157.8 1747h0M1118.7 1736.2h0M1135.6 1727h0M1198.4 1744.7h0M1199.6 1746.8h0M1116.4 1739.3h0M1203.5 1721h0M1184.7 1734.7h0M1178 1745.7h0M1210.7 1719.1h0M1132.4 1735.5h0M1155.5 1750.3h0M1089.3 1743.9h0M1095.8 1718.2h0M1125.1 1751.8h0M1065.7 1774.3h0M1060.2 1758.5h0M1060.6 1775.9h0M1058.2 1764.1h0M1055.1 1756.6h0M1055.7 1757.7h0M1064.8 1766.9h0M1054.6 1771.6h0M1058.4 1758.6h0M1065.9 1762.9h0M1112 1762h0M1157 1780h0M1167 1825h0M1109 1837h0M1236 1725.5h0M1256 1749h0M1264 1791h0M1329 1752.5h0M1710 1608h0M1708.4 1680.7h0M1688.3 1663.7h0M1695.7 1641h0M1684.6 1645.9h0M1690.4 1686.6h0M1708.9 1648.6h0M1697.1 1653.9h0M1708.1 1648.5h0M1712.3 1647.8h0M1700.3 1673.1h0M1686.5 1627.9h0M1696.9 1628.7h0M1712.8 1649.4h0M1701.5 1646.7h0M1692.3 1648h0M1707.5 1702h0M1685 1725h0M1703 1732h0M1709 1736h0M1866 1702h0M1872 1732h0M1802 1736h0M1813 1746h0M1328.5 1752h0" stroke="#00EE00" stroke-width="7.9" stroke-linecap="round" fill="none"/>
<path d="M1169 1679h0M1201 1689h0M1055 1714h0M1101.5 1711h0M1300 1669h0M1306.3 1622.7h0M1282.9 1628.4h0M1298.5 1629h0M1316.6 1629.9h0M1291.2 1608.8h0M1276.5 1612.9h0M1294.8 1627.2h0M1285.2 1621.4h0M1309.7 1619h0M1305.2 1620.7h0M1296.5 1634.2h0M1278.1 1610.7h0M1313.9 1604.2h0M1300.2 1610h0M1305.6 1633h0M1292.1 1639.5h0M1300 1623.1h0M1336.2 1612.5h0M1319.2 1619.6h0M1336.4 1623.1h0M1293.4 1605h0M1314.7 1635.6h0M1325.9 1631.6h0M1274.5 1636.5h0M1297.9 1629.1h0M1307.8 1628.5h0M1324 1610.5h0M1322.6 1631.8h0M1285.8 1614.2h0M1329.4 1637.5h0M1381.9 1628.2h0M1474.5 1638.1h0M1359.9 1634h0M1363.3 1622.6h0M1396 1638.8h0M1466.8 1632.7h0M1342.1 1638.4h0M1378 1634.9h0M1371.7 1626.4h0M1366.9 1627.1h0M1410.8 1630.3h0M1357.4 1636.6h0M1378.2 1630h0M1413.9 1628.2h0M1467.3 1622.9h0M1363.2 1622.1h0M1356.1 1634.9h0M1359.6 1635.4h0M1418.7 1628.1h0M1446.8 1626.5h0M1381 1634.5h0M1366.6 1631.1h0M1468.9 1629.1h0M1365.4 1635.3h0M1462.8 1637.5h0M1373.6 1626.6h0M1368.9 1630.1h0M1397.8 1627.8h0M1431 1639.1h0M1406.2 1630h0M1445.7 1631.1h0M1348.9 1626.9h0M1423.3 1639.8h0M1474.1 1630.5h0M1461.6 1630.4h0M1476.5 1624h0M1443.3 1627.7h0M1355.2 1623.5h0M1416.7 1603.1h0M1381 1616.3h0M1404.3 1620.2h0M1427.3 1664.3h0M1473.6 1641.1h0M1454.6 1615.4h0M1371.9 1602.8h0M1418.4 1674.6h0M1412.7 1673.4h0M1429.3 1604.4h0M1421.7 1648h0M1451.4 1614.4h0M1370 1594h0M1448 1675h0M1464 1697h0M1464 1702h0M1464 1707h0M1754.5 1643.2h0M1703.7 1629h0M1706.3 1642h0M1749.2 1631.9h0M1732.3 1625.6h0M1702.1 1624.2h0M1711.8 1629.4h0M1745.1 1643.1h0M1736.9 1634.4h0M1713.8 1647.1h0M1685.7 1642.7h0M1701 1627.6h0M1738.2 1622.4h0M1758.6 1619.3h0M1733.2 1635.5h0M1747.7 1621h0M1743.1 1647.8h0M1734.5 1623.7h0M1750.7 1641.4h0M1703.5 1638.2h0M1728.4 1631.3h0M1695.1 1641.5h0M1755.9 1642.9h0M1689.9 1638.8h0M1710.8 1646.1h0M1683.5 1619.1h0M1719 1633.4h0M1748.8 1634h0M1720.7 1623.9h0M1762 1638.1h0M1786 1635h0M1877 1628h0M1813 1629.1h0M1827.3 1641.6h0M1839.8 1639.2h0M1823 1627.2h0M1816 1624.1h0M1816.7 1636.4h0" stroke="#FFA500" stroke-width="7.9" stroke-linecap="round" fill="none"/>
<path d="M1168 1582h0M1082 1609h0M1108.5 1651h0M1064 1664h0M1058.6 1674.5h0M1230.1 1590.5h0M1221.8 1585.1h0M1239.9 1582.5h0M1221.7 1589.1h0M1223.7 1595.3h0M1233.2 1595.5h0M1226.6 1591.8h0M1230.4 1590.7h0M1221.9 1585.5h0M1232.1 1579.3h0M1226.7 1585.5h0M1228.2 1595.2h0M1248.6 1588.3h0M1235.7 1591.8h0M1235.4 1593.2h0M1197.2 1633.8h0M1083.4 1628.4h0M1150.3 1625.5h0M1149.2 1639.2h0M1173.6 1647.2h0M1108.6 1644.4h0M1114.7 1634.9h0M1118.8 1617.7h0M1098.9 1623.6h0M1157.5 1645h0M1158.9 1647h0M1197.2 1641.2h0M1187.8 1616.2h0M1122.9 1636.5h0M1152 1638.3h0M1187.2 1617.3h0M1126.6 1617.2h0M1180.6 1650.7h0M1164.8 1646.7h0M1089.7 1635.7h0M1183.1 1622.2h0M1152.8 1637.2h0M1149.7 1624.9h0M1107.2 1644.3h0M1195.8 1641.1h0M1149.7 1616.4h0M1179.2 1628.1h0M1187.2 1633.3h0M1166.9 1622.7h0M1084.7 1619.1h0M1178.8 1619.8h0M1104.8 1617.9h0M1114.9 1644.5h0M1179.6 1632.6h0M1163.4 1624.3h0M1161.2 1632.8h0M1181.4 1632.1h0M1175.5 1633.9h0M1179.6 1640.8h0M1181.5 1636h0M1171.7 1624.5h0M1159.1 1644.4h0M1182.7 1641.7h0M1170.7 1632.6h0M1168.5 1642.5h0M1177.1 1644.8h0M1172.3 1638.6h0M1181.8 1624.1h0M1176.6 1630.7h0M1172.2 1644.1h0M1176.8 1636.4h0M1178 1623h0M1178.9 1637.9h0M1167.1 1639.1h0M1163.1 1632.1h0M1167.9 1627.2h0M1183.5 1628.5h0M1184 1637.7h0M1160.9 1640.1h0M1178.4 1640.5h0M1252 1622.5h0M1258.5 1612.8h0M1253.4 1616.4h0M1255.6 1618.6h0M1255.4 1613h0M1259.2 1611.4h0M1255.2 1621.8h0M1253.3 1611.6h0" stroke="#FF0000" stroke-width="7.9" stroke-linecap="round" fill="none"/>
<path d="M1253.6 1112.6l4.2 4.2l-4.2 4.2l-4.2 -4.2ZM1253.6 1126.6l4.2 4.2l-4.2 4.2l-4.2 -4.2ZM1249 1134.2l4.6 4.6l-4.6 4.6l-4.6 -4.6ZM1253 1134.2l4.6 4.6l-4.6 4.6l-4.6 -4.6ZM1257 1134.2l4.6 4.6l-4.6 4.6l-4.6 -4.6ZM1261 1134.2l4.6 4.6l-4.6 4.6l-4.6 -4.6ZM1265 1134.2l4.6 4.6l-4.6 4.6l-4.6 -4.6ZM1228.5 1564.3l4.2 4.2l-4.2 4.2l-4.2 -4.2Z" fill="#A020F0"/>
<path d="M561 1245H2167M561 1618.5H2167" stroke="#FF0000" stroke-width="2.2" stroke-dasharray="5.7 5.47" fill="none"/>
<path d="M1224.9 1092.3V1533.8M1253.9 1092.3V1533.8M1224.5 1544V1982.5M1229 1544V1982.5" stroke="#BBBBBB" stroke-width="2" stroke-dasharray="8 8.68" fill="none"/>
<rect x="561" y="1091.5" width="1606" height="442.3" fill="none" stroke="#333" stroke-width="1.7"/>
<rect x="561" y="1543.2" width="1606" height="439.3" fill="none" stroke="#333" stroke-width="1.7"/>
<rect x="561" y="1994.8" width="1602.6" height="482.5" fill="none" stroke="#333" stroke-width="1.7"/>
<path d="M554 1524H561M554 1382.6H561M554 1241.2H561M554 1099.8H561M554 1973.7H561M554 1865.8H561M554 1757.9H561M554 1650.1H561M577 2477.3V2484.5M988.9 2477.3V2484.5M1401 2477.3V2484.5M1812.8 2477.3V2484.5" stroke="#333" stroke-width="1.7" fill="none"/>
<text x="541" y="1532" font-size="23" text-anchor="end">0</text>
<text x="541" y="1390.6" font-size="23" text-anchor="end">5</text>
<text x="541" y="1249.2" font-size="23" text-anchor="end">10</text>
<text x="541" y="1107.8" font-size="23" text-anchor="end">15</text>
<text x="541" y="1981.7" font-size="23" text-anchor="end">0</text>
<text x="541" y="1873.8" font-size="23" text-anchor="end">3</text>
<text x="541" y="1765.9" font-size="23" text-anchor="end">6</text>
<text x="541" y="1658.1" font-size="23" text-anchor="end">9</text>
<text x="504.5" y="2516" font-size="22.5" textLength="142" lengthAdjust="spacingAndGlyphs">106,500,000</text>
<text x="916.4" y="2516" font-size="22.5" textLength="142" lengthAdjust="spacingAndGlyphs">106,600,000</text>
<text x="1328.5" y="2516" font-size="22.5" textLength="142" lengthAdjust="spacingAndGlyphs">106,700,000</text>
<text x="1740.3" y="2516" font-size="22.5" textLength="142" lengthAdjust="spacingAndGlyphs">106,800,000</text>
<text x="1362.5" y="2562.3" font-size="28" text-anchor="middle">Position on chromosome 14</text>
<text transform="translate(498 1313) rotate(-90)" text-anchor="middle" font-size="28">-log<tspan font-size="20" dy="6">10</tspan><tspan dy="-6">(</tspan><tspan font-style="italic">P</tspan><tspan font-size="20" dy="6">adj</tspan><tspan dy="-6">)</tspan></text>
<text transform="translate(498 1762.5) rotate(-90)" text-anchor="middle" font-size="28">-log<tspan font-size="20" dy="6">10</tspan><tspan dy="-6">(</tspan><tspan font-style="italic">P</tspan><tspan font-size="20" dy="6">adj</tspan><tspan dy="-6">)</tspan></text>
<text x="563" y="1234.3" font-size="27" textLength="111" lengthAdjust="spacingAndGlyphs">1.311 × 10</text><text x="676.5" y="1221.8" font-size="19" textLength="28" lengthAdjust="spacingAndGlyphs">−10</text>
<text x="563" y="1607" font-size="27" textLength="111" lengthAdjust="spacingAndGlyphs">1.311 × 10</text><text x="676.5" y="1594.5" font-size="19" textLength="28" lengthAdjust="spacingAndGlyphs">−10</text>
<text x="1216" y="1124.3" font-size="27" text-anchor="end">rs9671760</text>
<text x="1262" y="1124.3" font-size="27" textLength="147" lengthAdjust="spacingAndGlyphs">rs58047143</text>
<text x="1216" y="1573" font-size="27" text-anchor="end">rs9671760</text>
<text x="1238" y="1573" font-size="27" textLength="134" lengthAdjust="spacingAndGlyphs">rs2072045</text>
<text x="1584.4" y="1138.6" font-size="27" textLength="282" lengthAdjust="spacingAndGlyphs">Rubella virus (D5KJ87)</text>
<text x="1584.4" y="1589" font-size="27" textLength="462" lengthAdjust="spacingAndGlyphs">Sandfly fever Sicilian virus (A7KCL0)</text>
<text x="475" y="1089" font-size="38" font-weight="bold">e</text>
<text x="475" y="1581" font-size="38" font-weight="bold">f</text>
<rect x="1966.8" y="1640" width="23.7" height="23.7" fill="#000080"/>
<text x="2004.7" y="1659.1" font-size="24"><tspan font-style="italic">r</tspan><tspan font-size="17" dx="1" dy="-11">2</tspan><tspan dy="11"> &lt; 0.2</tspan></text>
<rect x="1966.8" y="1672.4" width="23.7" height="23.7" fill="#40E0D0"/>
<text x="2004.7" y="1691.5" font-size="24">0.2 &lt; <tspan font-style="italic">r</tspan><tspan font-size="17" dx="1" dy="-11">2</tspan><tspan dy="11"> &lt; 0.4</tspan></text>
<rect x="1966.8" y="1704.9" width="23.7" height="23.7" fill="#00FF00"/>
<text x="2004.7" y="1724" font-size="24">0.4 &lt; <tspan font-style="italic">r</tspan><tspan font-size="17" dx="1" dy="-11">2</tspan><tspan dy="11"> &lt; 0.6</tspan></text>
<rect x="1966.8" y="1737.4" width="23.7" height="23.7" fill="#FFA500"/>
<text x="2004.7" y="1756.5" font-size="24">0.6 &lt; <tspan font-style="italic">r</tspan><tspan font-size="17" dx="1" dy="-11">2</tspan><tspan dy="11"> &lt; 0.8</tspan></text>
<rect x="1966.8" y="1769.4" width="23.7" height="23.7" fill="#FF0000"/>
<text x="2004.7" y="1788.5" font-size="24">0.8 &lt; <tspan font-style="italic">r</tspan><tspan font-size="17" dx="1" dy="-11">2</tspan></text>
<rect x="1842.3" y="2003.2" width="23.5" height="23.5" fill="#F8766D"/>
<text x="1880.8" y="2023.4" font-size="23.5">IGV gene</text>
<rect x="1842.3" y="2034.2" width="23.5" height="23.5" fill="#B79F00"/>
<text x="1880.8" y="2054.4" font-size="23.5">IGV pseudogene</text>
<rect x="1842.3" y="2065.2" width="23.5" height="23.5" fill="#00BA38"/>
<text x="1880.8" y="2085.4" font-size="23.5">lncRNA</text>
<rect x="1842.3" y="2096.1" width="23.5" height="23.5" fill="#00BFC4"/>
<text x="1880.8" y="2116.3" font-size="23.5">miRNA</text>
<rect x="1842.3" y="2126.7" width="23.5" height="23.5" fill="#619CFF"/>
<text x="1880.8" y="2146.9" font-size="23.5">Processed pseudogene</text>
<rect x="1842.3" y="2157.6" width="23.5" height="23.5" fill="#F564E3"/>
<text x="1880.8" y="2177.8" font-size="23.5">rRNA pseudogene</text>
<path d="M1144.6 2039.6V2058M994.9 2083.6V2102M1167.1 2083.6V2102M933.4 2171.8V2190.2M1118.4 2171.8V2190.2M2141 2171.8V2190.2M705.6 2215.8V2234.2M926.5 2215.8V2234.2M1284.6 2215.8V2234.2M1517.5 2215.8V2234.2M1927.8 2215.8V2234.2M654.7 2260V2278.4M1262.1 2260V2278.4M1911.4 2260V2278.4M2092.1 2260V2278.4M1067.4 2304.5V2322.9M1417.5 2304.5V2322.9M1710.9 2304.5V2322.9M1900.1 2304.5V2322.9M2083.2 2304.5V2322.9M850.3 2348.1V2366.5M1029.8 2348.1V2366.5M1204.7 2348.1V2366.5M1381.3 2348.1V2366.5M2024 2348.1V2366.5M987.5 2392.2V2410.6M1321.3 2392.2V2410.6M842.5 2436.3V2454.7M1014.7 2436.3V2454.7M1197.4 2436.3V2454.7M1370.5 2436.3V2454.7M1944.2 2436.3V2454.7M2113.2 2436.3V2454.7" stroke="#B79F00" stroke-width="2.4" fill="none"/>
<path d="M1347.5 2039.6V2058M1345.2 2083.6V2102M642.3 2304.5V2322.9" stroke="#B79F00" stroke-width="1.2" stroke-opacity="0.45" fill="none"/>
<path d="M960 2127.7V2146.1M733.7 2171.8V2190.2M1298.9 2171.8V2190.2M1102.3 2215.8V2234.2M2120.8 2215.8V2234.2M921.4 2260V2278.4M1081.7 2260V2278.4M1462 2260V2278.4M902.2 2304.5V2322.9M1227.2 2304.5V2322.9M623.9 2348.1V2366.5M1657.4 2348.1V2366.5M1825 2348.1V2366.5M606.5 2392.2V2410.6M812.2 2392.2V2410.6M1150.5 2392.2V2410.6M1498.7 2392.2V2410.6M1692.1 2392.2V2410.6M1857.4 2392.2V2410.6M1554.6 2436.3V2454.7M1775.2 2436.3V2454.7" stroke="#F8766D" stroke-width="2.4" fill="none"/>
<path d="M1140 2127.7V2146.1" stroke="#F564E3" stroke-width="1.2" fill="none"/>
<path d="M1334.2 2127.7V2146.1" stroke="#619CFF" stroke-width="4" fill="none"/>
<path d="M2022.2 2392.2V2410.6" stroke="#00BFC4" stroke-width="1.2" fill="none"/>
<rect x="561" y="2437" width="102.9" height="17" fill="#00BA38"/>
<text x="1234" y="2322.8" font-size="26" font-style="italic" textLength="125" lengthAdjust="spacingAndGlyphs">IGHV3-64</text>
</svg></body></html>
